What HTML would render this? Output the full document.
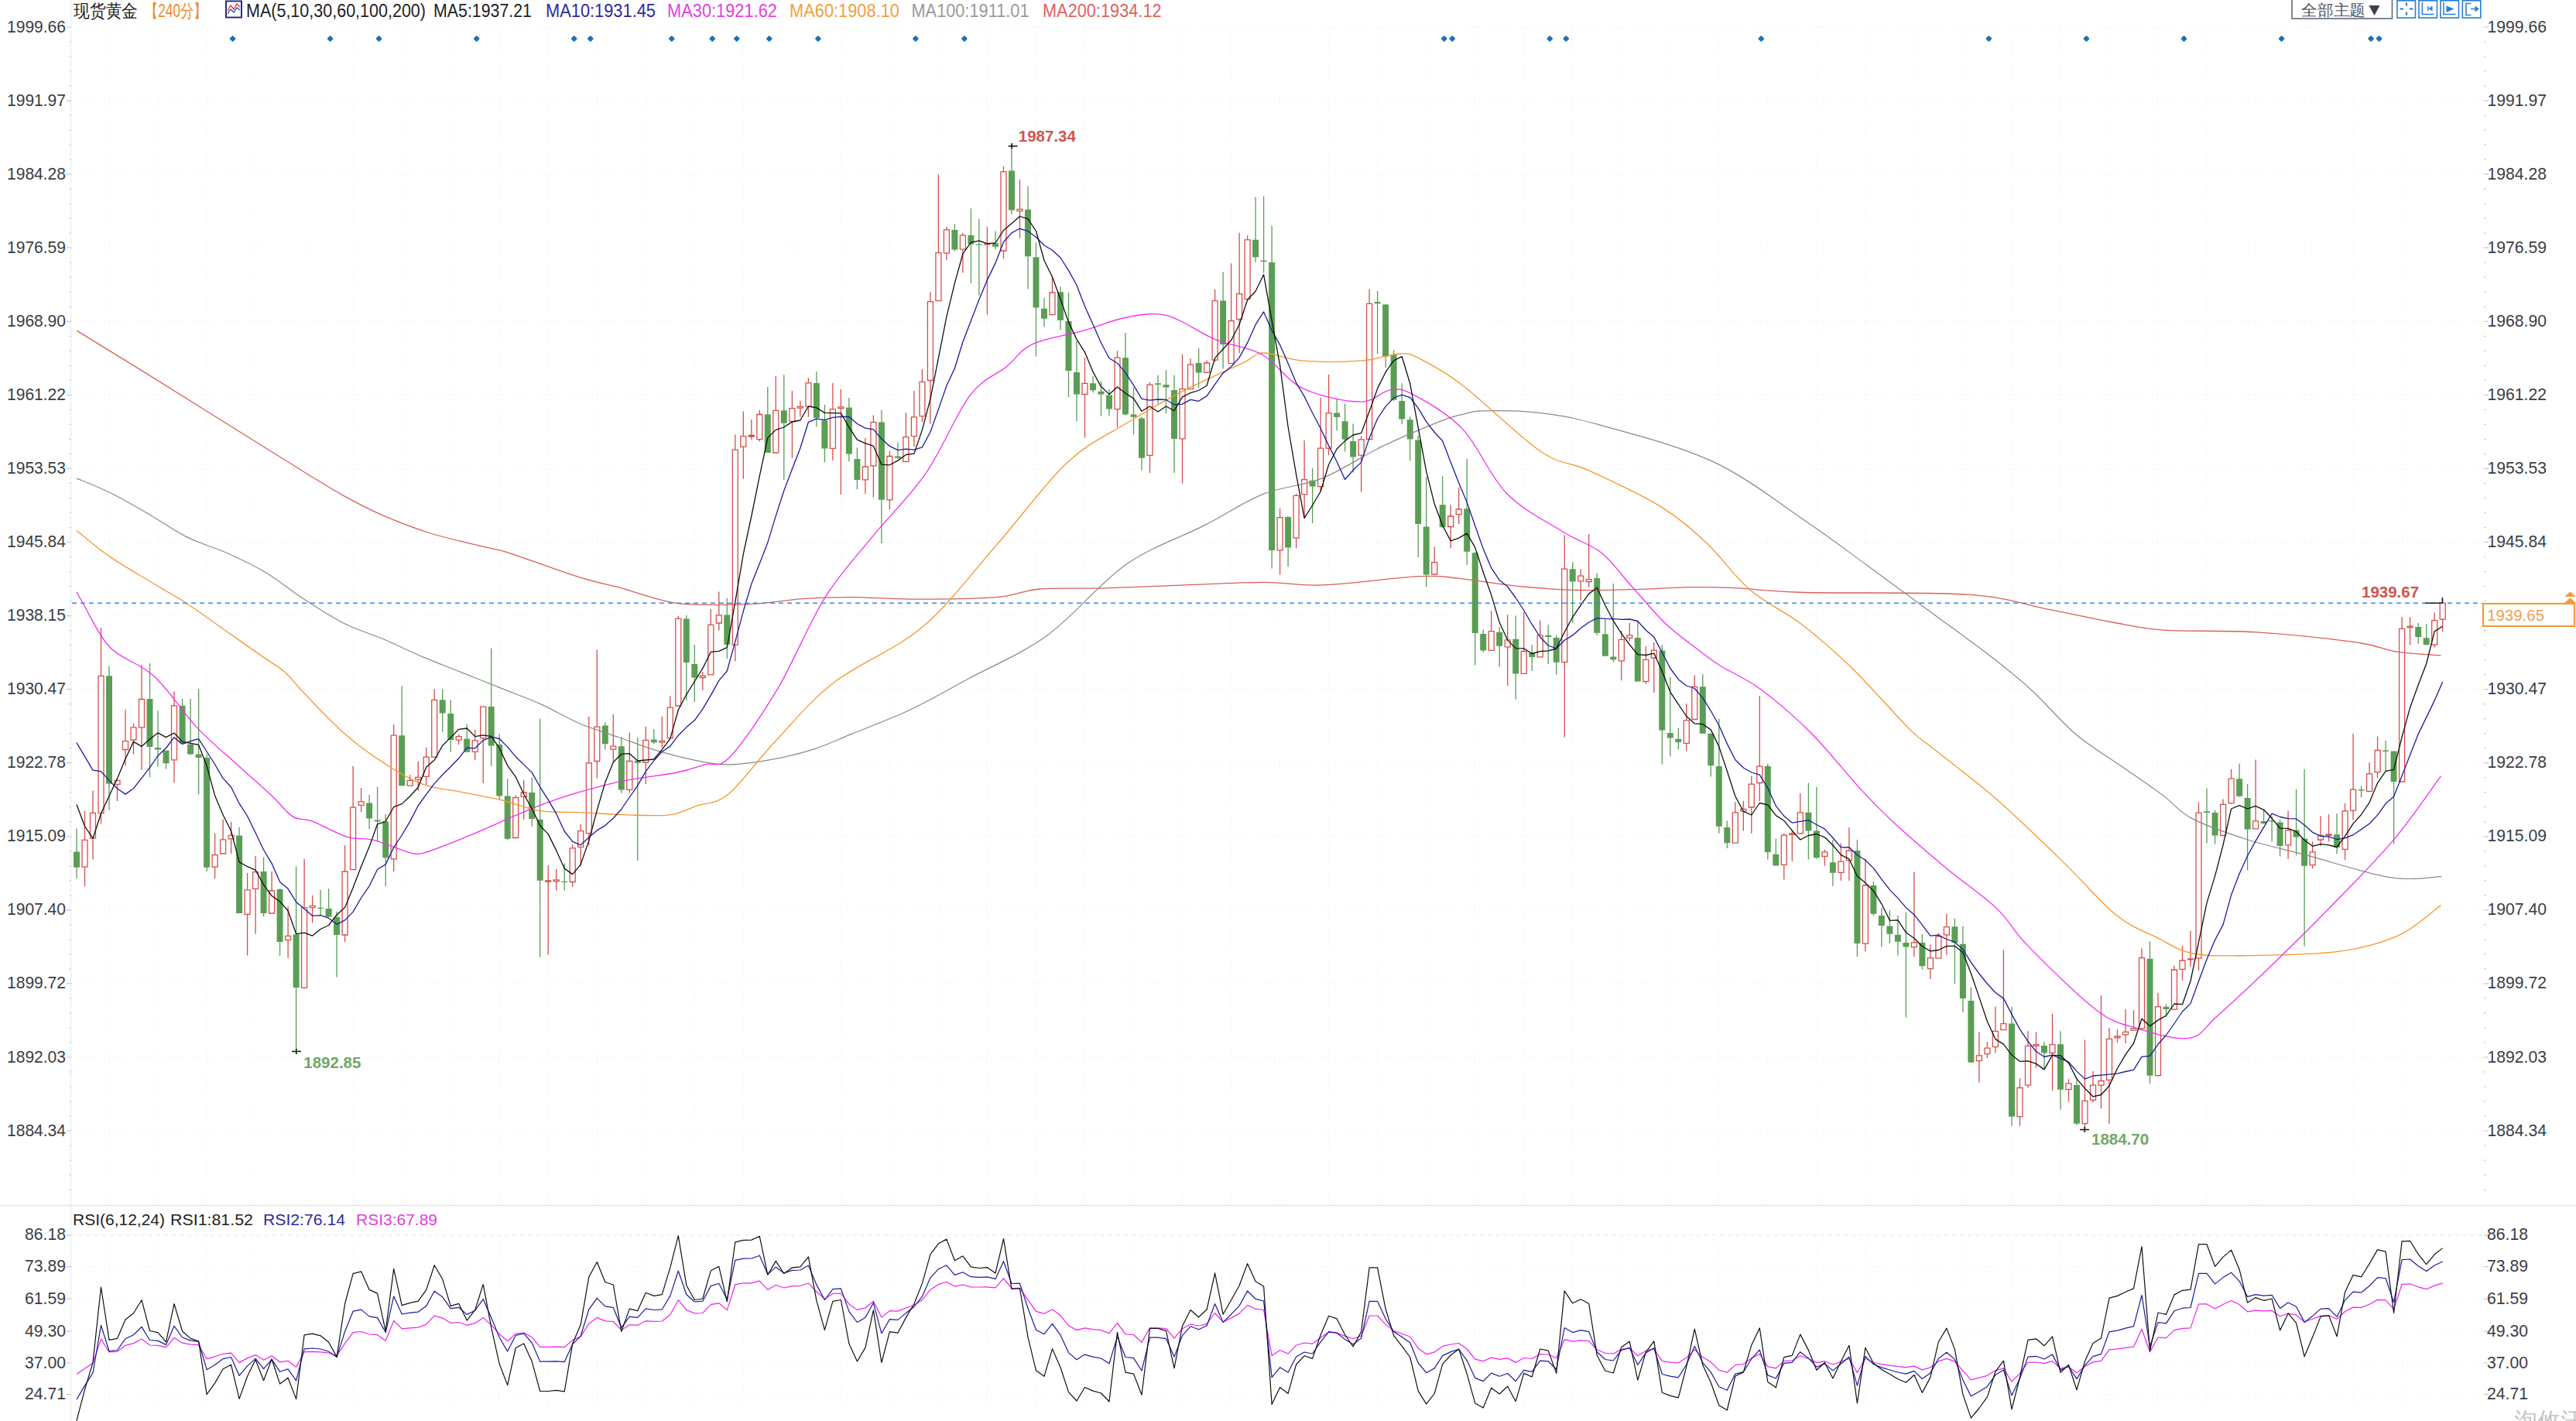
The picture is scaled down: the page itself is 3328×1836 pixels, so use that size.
<!DOCTYPE html><html><head><meta charset="utf-8"><style>html,body{margin:0;padding:0;background:#fff;overflow:hidden}</style></head><body><svg width="3328" height="1836" viewBox="0 0 3328 1836" style="display:block">
<rect width="3328" height="1836" fill="#fff"/>
<path d="M92 35H3209 M92 130.1H3209 M92 225.1H3209 M92 320.2H3209 M92 415.3H3209 M92 510.3H3209 M92 605.4H3209 M92 700.5H3209 M92 795.6H3209 M92 890.6H3209 M92 985.7H3209 M92 1080.8H3209 M92 1175.8H3209 M92 1270.9H3209 M92 1366H3209 M92 1461H3209" stroke="#ebebeb" stroke-width="1" stroke-dasharray="1.5 4.5" fill="none"/>
<path d="M141 35V1557 M204 35V1557 M267.1 35V1557 M330.1 35V1557 M393.1 35V1557 M456.1 35V1557 M519.2 35V1557 M582.2 35V1557 M645.2 35V1557 M708.2 35V1557 M771.3 35V1557 M834.3 35V1557 M897.3 35V1557 M960.3 35V1557 M1023.4 35V1557 M1086.4 35V1557 M1149.4 35V1557 M1212.4 35V1557 M1275.4 35V1557 M1338.5 35V1557 M1401.5 35V1557 M1464.5 35V1557 M1527.5 35V1557 M1590.6 35V1557 M1653.6 35V1557 M1716.6 35V1557 M1779.6 35V1557 M1842.7 35V1557 M1905.7 35V1557 M1968.7 35V1557 M2031.7 35V1557 M2094.8 35V1557 M2157.8 35V1557 M2220.8 35V1557 M2283.8 35V1557 M2346.9 35V1557 M2409.9 35V1557 M2472.9 35V1557 M2535.9 35V1557 M2599 35V1557 M2662 35V1557 M2725 35V1557 M2788 35V1557 M2851 35V1557 M2914.1 35V1557 M2977.1 35V1557 M3040.1 35V1557 M3103.1 35V1557" stroke="#eeeeee" stroke-width="1" stroke-dasharray="1.5 4.5" fill="none"/>
<path d="M92 1636.7H3209 M92 1678.1H3209 M92 1720.2H3209 M92 1761H3209 M92 1801.7H3209" stroke="#ebebeb" stroke-width="1" stroke-dasharray="1.5 4.5" fill="none"/>
<path d="M92 1595.9H3209" stroke="#e4e4e4" stroke-width="1" stroke-dasharray="5 5" fill="none"/>
<path d="M141 1596V1836 M204 1596V1836 M267.1 1596V1836 M330.1 1596V1836 M393.1 1596V1836 M456.1 1596V1836 M519.2 1596V1836 M582.2 1596V1836 M645.2 1596V1836 M708.2 1596V1836 M771.3 1596V1836 M834.3 1596V1836 M897.3 1596V1836 M960.3 1596V1836 M1023.4 1596V1836 M1086.4 1596V1836 M1149.4 1596V1836 M1212.4 1596V1836 M1275.4 1596V1836 M1338.5 1596V1836 M1401.5 1596V1836 M1464.5 1596V1836 M1527.5 1596V1836 M1590.6 1596V1836 M1653.6 1596V1836 M1716.6 1596V1836 M1779.6 1596V1836 M1842.7 1596V1836 M1905.7 1596V1836 M1968.7 1596V1836 M2031.7 1596V1836 M2094.8 1596V1836 M2157.8 1596V1836 M2220.8 1596V1836 M2283.8 1596V1836 M2346.9 1596V1836 M2409.9 1596V1836 M2472.9 1596V1836 M2535.9 1596V1836 M2599 1596V1836 M2662 1596V1836 M2725 1596V1836 M2788 1596V1836 M2851 1596V1836 M2914.1 1596V1836 M2977.1 1596V1836 M3040.1 1596V1836 M3103.1 1596V1836" stroke="#eeeeee" stroke-width="1" stroke-dasharray="1.5 4.5" fill="none"/>
<path d="M91.5 0V1836" stroke="#eef0f4" stroke-width="1.5" fill="none"/>
<path d="M0 1557.5H3328" stroke="#e4e4e4" stroke-width="1.5" fill="none"/>
<path d="M86 35H92M3209 35H3215 M89.5 54H92M3209 54H3211.5 M89.5 73H92M3209 73H3211.5 M89.5 92H92M3209 92H3211.5 M89.5 111.1H92M3209 111.1H3211.5 M86 130.1H92M3209 130.1H3215 M89.5 149.1H92M3209 149.1H3211.5 M89.5 168.1H92M3209 168.1H3211.5 M89.5 187.1H92M3209 187.1H3211.5 M89.5 206.1H92M3209 206.1H3211.5 M86 225.1H92M3209 225.1H3215 M89.5 244.2H92M3209 244.2H3211.5 M89.5 263.2H92M3209 263.2H3211.5 M89.5 282.2H92M3209 282.2H3211.5 M89.5 301.2H92M3209 301.2H3211.5 M86 320.2H92M3209 320.2H3215 M89.5 339.2H92M3209 339.2H3211.5 M89.5 358.2H92M3209 358.2H3211.5 M89.5 377.3H92M3209 377.3H3211.5 M89.5 396.3H92M3209 396.3H3211.5 M86 415.3H92M3209 415.3H3215 M89.5 434.3H92M3209 434.3H3211.5 M89.5 453.3H92M3209 453.3H3211.5 M89.5 472.3H92M3209 472.3H3211.5 M89.5 491.3H92M3209 491.3H3211.5 M86 510.3H92M3209 510.3H3215 M89.5 529.4H92M3209 529.4H3211.5 M89.5 548.4H92M3209 548.4H3211.5 M89.5 567.4H92M3209 567.4H3211.5 M89.5 586.4H92M3209 586.4H3211.5 M86 605.4H92M3209 605.4H3215 M89.5 624.4H92M3209 624.4H3211.5 M89.5 643.4H92M3209 643.4H3211.5 M89.5 662.5H92M3209 662.5H3211.5 M89.5 681.5H92M3209 681.5H3211.5 M86 700.5H92M3209 700.5H3215 M89.5 719.5H92M3209 719.5H3211.5 M89.5 738.5H92M3209 738.5H3211.5 M89.5 757.5H92M3209 757.5H3211.5 M89.5 776.5H92M3209 776.5H3211.5 M86 795.6H92M3209 795.6H3215 M89.5 814.6H92M3209 814.6H3211.5 M89.5 833.6H92M3209 833.6H3211.5 M89.5 852.6H92M3209 852.6H3211.5 M89.5 871.6H92M3209 871.6H3211.5 M86 890.6H92M3209 890.6H3215 M89.5 909.6H92M3209 909.6H3211.5 M89.5 928.7H92M3209 928.7H3211.5 M89.5 947.7H92M3209 947.7H3211.5 M89.5 966.7H92M3209 966.7H3211.5 M86 985.7H92M3209 985.7H3215 M89.5 1004.7H92M3209 1004.7H3211.5 M89.5 1023.7H92M3209 1023.7H3211.5 M89.5 1042.7H92M3209 1042.7H3211.5 M89.5 1061.8H92M3209 1061.8H3211.5 M86 1080.8H92M3209 1080.8H3215 M89.5 1099.8H92M3209 1099.8H3211.5 M89.5 1118.8H92M3209 1118.8H3211.5 M89.5 1137.8H92M3209 1137.8H3211.5 M89.5 1156.8H92M3209 1156.8H3211.5 M86 1175.8H92M3209 1175.8H3215 M89.5 1194.9H92M3209 1194.9H3211.5 M89.5 1213.9H92M3209 1213.9H3211.5 M89.5 1232.9H92M3209 1232.9H3211.5 M89.5 1251.9H92M3209 1251.9H3211.5 M86 1270.9H92M3209 1270.9H3215 M89.5 1289.9H92M3209 1289.9H3211.5 M89.5 1308.9H92M3209 1308.9H3211.5 M89.5 1328H92M3209 1328H3211.5 M89.5 1347H92M3209 1347H3211.5 M86 1366H92M3209 1366H3215 M89.5 1385H92M3209 1385H3211.5 M89.5 1404H92M3209 1404H3211.5 M89.5 1423H92M3209 1423H3211.5 M89.5 1442H92M3209 1442H3211.5 M86 1461H92M3209 1461H3215 M89.5 1480.1H92M3209 1480.1H3211.5 M89.5 1499.1H92M3209 1499.1H3211.5 M89.5 1518.1H92M3209 1518.1H3211.5 M89.5 1537.1H92M3209 1537.1H3211.5 M86 1595.9H92M3209 1595.9H3215 M86 1636.7H92M3209 1636.7H3215 M86 1678.1H92M3209 1678.1H3215 M86 1720.2H92M3209 1720.2H3215 M86 1761H92M3209 1761H3215 M86 1801.7H92M3209 1801.7H3215" stroke="#c8c8c8" stroke-width="1.2" fill="none"/>
<g font-family="Liberation Sans, sans-serif" font-size="22.5" fill="#3a3d44"><text x="9" y="41.5" textLength="76" lengthAdjust="spacingAndGlyphs">1999.66</text><text x="3213.5" y="41.5" textLength="76.5" lengthAdjust="spacingAndGlyphs">1999.66</text><text x="9" y="136.6" textLength="76" lengthAdjust="spacingAndGlyphs">1991.97</text><text x="3213.5" y="136.6" textLength="76.5" lengthAdjust="spacingAndGlyphs">1991.97</text><text x="9" y="231.6" textLength="76" lengthAdjust="spacingAndGlyphs">1984.28</text><text x="3213.5" y="231.6" textLength="76.5" lengthAdjust="spacingAndGlyphs">1984.28</text><text x="9" y="326.7" textLength="76" lengthAdjust="spacingAndGlyphs">1976.59</text><text x="3213.5" y="326.7" textLength="76.5" lengthAdjust="spacingAndGlyphs">1976.59</text><text x="9" y="421.8" textLength="76" lengthAdjust="spacingAndGlyphs">1968.90</text><text x="3213.5" y="421.8" textLength="76.5" lengthAdjust="spacingAndGlyphs">1968.90</text><text x="9" y="516.8" textLength="76" lengthAdjust="spacingAndGlyphs">1961.22</text><text x="3213.5" y="516.8" textLength="76.5" lengthAdjust="spacingAndGlyphs">1961.22</text><text x="9" y="611.9" textLength="76" lengthAdjust="spacingAndGlyphs">1953.53</text><text x="3213.5" y="611.9" textLength="76.5" lengthAdjust="spacingAndGlyphs">1953.53</text><text x="9" y="707" textLength="76" lengthAdjust="spacingAndGlyphs">1945.84</text><text x="3213.5" y="707" textLength="76.5" lengthAdjust="spacingAndGlyphs">1945.84</text><text x="9" y="802.1" textLength="76" lengthAdjust="spacingAndGlyphs">1938.15</text><text x="3213.5" y="802.1" textLength="76.5" lengthAdjust="spacingAndGlyphs">1938.15</text><text x="9" y="897.1" textLength="76" lengthAdjust="spacingAndGlyphs">1930.47</text><text x="3213.5" y="897.1" textLength="76.5" lengthAdjust="spacingAndGlyphs">1930.47</text><text x="9" y="992.2" textLength="76" lengthAdjust="spacingAndGlyphs">1922.78</text><text x="3213.5" y="992.2" textLength="76.5" lengthAdjust="spacingAndGlyphs">1922.78</text><text x="9" y="1087.3" textLength="76" lengthAdjust="spacingAndGlyphs">1915.09</text><text x="3213.5" y="1087.3" textLength="76.5" lengthAdjust="spacingAndGlyphs">1915.09</text><text x="9" y="1182.3" textLength="76" lengthAdjust="spacingAndGlyphs">1907.40</text><text x="3213.5" y="1182.3" textLength="76.5" lengthAdjust="spacingAndGlyphs">1907.40</text><text x="9" y="1277.4" textLength="76" lengthAdjust="spacingAndGlyphs">1899.72</text><text x="3213.5" y="1277.4" textLength="76.5" lengthAdjust="spacingAndGlyphs">1899.72</text><text x="9" y="1372.5" textLength="76" lengthAdjust="spacingAndGlyphs">1892.03</text><text x="3213.5" y="1372.5" textLength="76.5" lengthAdjust="spacingAndGlyphs">1892.03</text><text x="9" y="1467.5" textLength="76" lengthAdjust="spacingAndGlyphs">1884.34</text><text x="3213.5" y="1467.5" textLength="76.5" lengthAdjust="spacingAndGlyphs">1884.34</text><text x="32" y="1602.4" textLength="53" lengthAdjust="spacingAndGlyphs">86.18</text><text x="3213" y="1602.4" textLength="53" lengthAdjust="spacingAndGlyphs">86.18</text><text x="32" y="1643.2" textLength="53" lengthAdjust="spacingAndGlyphs">73.89</text><text x="3213" y="1643.2" textLength="53" lengthAdjust="spacingAndGlyphs">73.89</text><text x="32" y="1684.6" textLength="53" lengthAdjust="spacingAndGlyphs">61.59</text><text x="3213" y="1684.6" textLength="53" lengthAdjust="spacingAndGlyphs">61.59</text><text x="32" y="1726.7" textLength="53" lengthAdjust="spacingAndGlyphs">49.30</text><text x="3213" y="1726.7" textLength="53" lengthAdjust="spacingAndGlyphs">49.30</text><text x="32" y="1767.5" textLength="53" lengthAdjust="spacingAndGlyphs">37.00</text><text x="3213" y="1767.5" textLength="53" lengthAdjust="spacingAndGlyphs">37.00</text><text x="32" y="1808.2" textLength="53" lengthAdjust="spacingAndGlyphs">24.71</text><text x="3213" y="1808.2" textLength="53" lengthAdjust="spacingAndGlyphs">24.71</text></g>
<path d="M99 1070.5V1135 M141 860.6V1046.8 M193.5 857V1004 M204 918.2V990.7 M214.5 969.9V993.6 M235.6 902.7V961 M246.1 902.7V975.4 M256.6 890.3V1026.2 M267.1 974.5V1126 M309.1 1069V1180 M340.6 1107.5V1184.4 M361.6 1148V1234.8 M382.6 1119.5V1358 M414.1 1149.6V1182 M424.6 1148V1185 M435.1 1177.7V1262.5 M477.1 1027V1071.3 M487.6 1016.7V1087.6 M498.2 1052V1145.3 M519.2 886.6V1015.2 M571.7 890.2V945.7 M582.2 904.3V971.7 M603.2 935.4V972.3 M634.7 837.7V990 M645.2 948.6V1032.2 M655.7 1006.2V1085.4 M687.2 1004.7V1067.7 M697.7 928.8V1236.8 M729.2 1115.6V1150.5 M781.8 933.2V968.7 M802.8 952.4V1024.8 M823.8 952.4V1112 M844.8 942.1V961.3 M886.8 794.9V905.2 M897.3 833.2V907 M939.3 772.8V851.2 M991.8 500.1V585 M1012.8 484.3V619.9 M1054.9 480.3V551.2 M1065.4 523V597.4 M1096.9 514V596.3 M1107.4 578.2V632.3 M1138.9 529.8V702.1 M1159.9 571.5V592.9 M1233.4 289.5V324.4 M1254.4 269.2V366.1 M1264.9 282.7V381.8 M1286 298.5V322.2 M1307 187V277.1 M1328 240.6V373.5 M1338.5 313.2V460.7 M1349 384.8V422.4 M1370 370.6V426.2 M1380.5 377.7V512.9 M1391 440.8V544.4 M1412 485.9V507.3 M1422.5 492.6V537.7 M1433 502.7V537.7 M1454 430V536.5 M1464.5 500.5V561.3 M1475 538.8V607.5 M1496 484.7V521.9 M1506.5 478V534.3 M1517 484.7V610.9 M1548.6 449.8V501.6 M1580.1 351.5V476.5 M1622.1 254.6V339.1 M1632.6 253.5V352.6 M1643.1 291.8V734.5 M1664.1 666.9V732.3 M1695.6 605V676 M1727.1 516V556.6 M1737.6 521.7V583.6 M1748.1 547.6V610.6 M1779.6 376V457.1 M1790.1 392.9V475.1 M1800.6 452.6V518 M1811.2 495.4V548.3 M1821.7 538.2V595.6 M1832.2 563V719.9 M1842.7 616.3V758.2 M1863.7 615.2V681.6 M1895.2 592.7V730 M1905.7 713.2V859.5 M1916.2 813.4V842.7 M1937.2 810V861.8 M1958.2 795.4V903.7 M1979.2 833.2V866.9 M2000.2 807.3V857.9 M2010.7 820.8V871.4 M2031.7 726.2V805 M2063.2 740.4V820.8 M2073.8 799.4V846.7 M2084.3 753.9V855.7 M2115.8 802.7V880.5 M2147.3 833.2V987.4 M2157.8 874.8V977.3 M2168.3 940.7V968.2 M2199.8 871.1V947.8 M2210.3 947.8V1003.6 M2220.8 928.8V1076.8 M2231.3 1060.4V1096 M2283.8 986.7V1110.6 M2294.3 1083.6V1118.5 M2336.4 1011.5V1110.6 M2346.9 1016.7V1109.5 M2367.9 1085V1144.7 M2399.4 1085V1236 M2420.4 1139.1V1183 M2430.9 1172.9V1223.6 M2441.4 1176.3V1219.1 M2451.9 1183V1234.8 M2462.4 1178.5V1314.8 M2483.4 1206.7V1252.8 M2525.4 1186.4V1270.9 M2535.9 1196.5V1308 M2546.4 1276V1372.8 M2599 1300.8V1455 M2641 1345.8V1381.8 M2662 1332.3V1433.6 M2683 1394.2V1453.9 M2777.5 1216.3V1400 M2798.5 1297.3V1314.2 M2851 1018.6V1089.5 M2861.6 1046.7V1090.6 M2893.1 986.6V1029.8 M2903.6 1012.9V1124.4 M2924.6 1046.7V1064.7 M2935.1 1054.6V1087.3 M2945.6 1059.1V1106.4 M2966.6 1019.7V1105.3 M2977.1 993.8V1222.4 M3019.1 1051.2V1103 M3050.6 1015.6V1030.3 M3082.1 957.1V996.5 M3092.6 970.6V1090.9 M3124.2 805V832.1 M3134.7 806.2V833.2" stroke="#5a9e55" stroke-width="1.3" fill="none"/>
<path d="M95 1100.6h8v20.1h-8Z M137 873.3h8v139.5h-8Z M189.5 902.9h8v62.1h-8Z M200 966.1h8v2.4h-8Z M210.5 969.4h8v16.8h-8Z M231.6 911.8h8v48.8h-8Z M242.1 961.8h8v12.7h-8Z M252.6 974.5h8v4.5h-8Z M263.1 979h8v141.8h-8Z M305.1 1079.4h8v100.6h-8Z M336.6 1126h8v54h-8Z M357.6 1149h8v68h-8Z M378.6 1207.3h8v68.8h-8Z M410.1 1172.7h8v1.4h-8Z M420.6 1173.9h8v10.6h-8Z M431.1 1185h8v23h-8Z M473.1 1037.4h8v20.1h-8Z M483.6 1059.5h8v2.1h-8Z M494.2 1061.6h8v46.7h-8Z M515.2 950.2h8v65h-8Z M567.7 904.3h8v17.2h-8Z M578.2 922h8v34.1h-8Z M599.2 954.6h8v17.1h-8Z M630.7 913.1h8v50.3h-8Z M641.2 961.9h8v66.5h-8Z M651.7 1028.4h8v55.3h-8Z M683.2 1024h8v34h-8Z M693.7 1058.8h8v79h-8Z M725.2 1138.7h8v1.4h-8Z M777.8 937.6h8v23.7h-8Z M798.8 964.2h8v56.2h-8Z M819.8 982.9h8v2.9h-8Z M840.8 955.4h8v3.8h-8Z M882.8 799.4h8v56.7h-8Z M893.3 857.9h8v17.6h-8Z M935.3 794.4h8v38.3h-8Z M987.8 535.5h8v49.5h-8Z M1008.8 530.3h8v16.4h-8Z M1050.9 494.9h8v45.1h-8Z M1061.4 543.3h8v36.1h-8Z M1092.9 526.4h8v60.2h-8Z M1103.4 592.9h8v27h-8Z M1134.9 545.6h8v100.2h-8Z M1155.9 589.5h8v2.3h-8Z M1229.4 296.9h8v25.7h-8Z M1250.4 304.1h8v11.3h-8Z M1260.9 315.4h8v1.4h-8Z M1282 314.3h8v4.5h-8Z M1303 220.4h8v51.1h-8Z M1324 270.8h8v60.4h-8Z M1334.5 332.3h8v65.3h-8Z M1345 398.7h8v13.1h-8Z M1366 377.3h8v36.5h-8Z M1376.5 414.9h8v64.2h-8Z M1387 480.9h8v28.6h-8Z M1408 495.3h8v9h-8Z M1418.5 505.7h8v3.8h-8Z M1429 510.6h8v18h-8Z M1450 462.2h8v73.2h-8Z M1460.5 535.4h8v3.4h-8Z M1471 540.4h8v51.3h-8Z M1492 495.3h8v1.8h-8Z M1502.5 497.1h8v3.4h-8Z M1513 503.9h8v63h-8Z M1544.6 469h8v12.4h-8Z M1576.1 388.6h8v56.4h-8Z M1618.1 309.8h8v22.5h-8Z M1628.6 336.4h8v1.6h-8Z M1639.1 339.1h8v371.8h-8Z M1660.1 668.1h8v39.4h-8Z M1691.6 620.8h8v7.8h-8Z M1723.1 533.6h8v5.4h-8Z M1733.6 544.2h8v23.6h-8Z M1744.1 570.1h8v20.3h-8Z M1775.6 390h8v2.3h-8Z M1786.1 393.6h8v66.9h-8Z M1796.6 458.2h8v58.6h-8Z M1807.2 517.9h8v23.7h-8Z M1817.7 542.3h8v25.2h-8Z M1828.2 568.6h8v108.5h-8Z M1838.7 680.5h8v61.9h-8Z M1859.7 652.3h8v28.9h-8Z M1891.2 657.3h8v55.4h-8Z M1901.7 714.3h8v103.6h-8Z M1912.2 819h8v21.4h-8Z M1933.2 816.8h8v18h-8Z M1954.2 825.8h8v44.6h-8Z M1975.2 843.3h8v5.6h-8Z M1996.2 820.8h8v2.2h-8Z M2006.7 824.1h8v31.6h-8Z M2027.7 735.2h8v16.4h-8Z M2059.2 747.1h8v70.7h-8Z M2069.8 819.2h8v28.6h-8Z M2080.3 848.5h8v3.8h-8Z M2111.8 824.1h8v56.4h-8Z M2143.3 840.4h8v103.1h-8Z M2153.8 946.9h8v6.7h-8Z M2164.3 954.8h8v4.2h-8Z M2195.8 887.3h8v60.5h-8Z M2206.3 947.8h8v41.5h-8Z M2216.8 990.1h8v77.7h-8Z M2227.3 1068.9h8v20.3h-8Z M2279.8 990.1h8v110.8h-8Z M2290.3 1103.8h8v14.7h-8Z M2332.4 1049.8h8v23.6h-8Z M2342.9 1073.4h8v34.9h-8Z M2363.9 1114.3h8v13.5h-8Z M2395.4 1099h8v120.1h-8Z M2416.4 1144h8v36.8h-8Z M2426.9 1183h8v12.9h-8Z M2437.4 1196.5h8v10.2h-8Z M2447.9 1207.8h8v9h-8Z M2458.4 1217.9h8v5.7h-8Z M2479.4 1217.9h8v30.4h-8Z M2521.4 1197.2h8v20.7h-8Z M2531.9 1219.7h8v70.3h-8Z M2542.4 1292.9h8v79.9h-8Z M2595 1322.6h8v120.1h-8Z M2637 1351h8v9.5h-8Z M2658 1349.2h8v58.5h-8Z M2679 1402.1h8v49.6h-8Z M2773.5 1238.8h8v150.9h-8Z M2794.5 1300.7h8v3.4h-8Z M2847 1048.3h8v1.8h-8Z M2857.6 1050.1h8v29.3h-8Z M2889.1 1006.2h8v22.5h-8Z M2899.6 1030.9h8v40.6h-8Z M2920.6 1060.9h8v3.2h-8Z M2931.1 1060.2h8v1.4h-8Z M2941.6 1062.5h8v30.4h-8Z M2962.6 1072.6h8v9h-8Z M2973.1 1083.4h8v35.4h-8Z M3015.1 1078.2h8v16.9h-8Z M3046.6 1020.1h8v1.4h-8Z M3078.1 969.5h8v1.4h-8Z M3088.6 970.6h8v39.4h-8Z M3120.2 810h8v13.1h-8Z M3130.7 824.2h8v9h-8Z" fill="#5a9e55" stroke="none"/>
<path d="M109.5 1047.7V1085.3 M109.5 1120.1V1145.2 M106 1085.3h7v34.8h-7Z M120 1021.7V1050.4 M120 1083.2V1110.4 M116.5 1050.4h7v32.8h-7Z M130.5 811.2V873.3 M130.5 1050.7V1064.6 M127 873.3h7v177.4h-7Z M151.5 1006V1008.4 M151.5 1013.4V1035 M148 1008.4h7v5h-7Z M162 916.8V957.6 M162 968.5V989.2 M158.5 957.6h7v10.9h-7Z M172.5 934.5V939.8 M172.5 956V974.4 M169 939.8h7v16.2h-7Z M183 859.1V903.5 M183 939.8V995.1 M179.5 903.5h7v36.3h-7Z M225 893.2V911.8 M225 981.9V1010.9 M221.5 911.8h7v70.1h-7Z M277.6 1076.5V1104.6 M277.6 1120.2V1135 M274.1 1104.6h7v15.6h-7Z M288.1 1058.7V1084.8 M284.6 1084.8h7v18.2h-7Z M298.6 1061.7V1079.4 M298.6 1083.9V1103 M295.1 1079.4h7v4.5h-7Z M319.6 1128V1149.8 M319.6 1181.4V1234.6 M316.1 1149.8h7v31.6h-7Z M330.1 1106V1126.7 M330.1 1148.3V1206.5 M326.6 1126.7h7v21.6h-7Z M351.1 1126V1151 M351.1 1180V1180.7 M347.6 1151h7v29h-7Z M372.1 1171V1209.3 M372.1 1214.7V1237.7 M368.6 1209.3h7v5.4h-7Z M393.1 1109.7V1172.7 M393.1 1276.1V1277.3 M389.6 1172.7h7v103.4h-7Z M403.6 1157V1170.3 M403.6 1172.7V1192.5 M400.1 1170.3h7v2.4h-7Z M445.6 1092V1126 M445.6 1208V1217 M442.1 1126h7v82h-7Z M456.1 990V1043.2 M452.6 1043.2h7v80.4h-7Z M466.6 1018V1035.8 M466.6 1040.3V1049 M463.1 1035.8h7v4.5h-7Z M508.7 936.3V950.2 M508.7 1109.8V1126 M505.2 950.2h7v159.6h-7Z M529.7 1001.3V1008.4 M526.2 1008.4h7v6.8h-7Z M540.2 983.6V1004.3 M540.2 1007.2V1022 M536.7 1004.3h7v2.9h-7Z M550.7 965.8V978.2 M550.7 1003.4V1013.7 M547.2 978.2h7v25.2h-7Z M561.2 890.2V904.3 M557.7 904.3h7v73.9h-7Z M592.7 948.7V951.6 M592.7 956.1V962 M589.2 951.6h7v4.5h-7Z M613.7 942.7V956.9 M613.7 971.3V982 M610.2 956.9h7v14.4h-7Z M624.2 912.2V913.1 M624.2 953.6V1012 M620.7 913.1h7v40.5h-7Z M666.2 1027.5V1030.5 M662.7 1030.5h7v52h-7Z M676.7 1007.7V1024 M676.7 1029.3V1058.8 M673.2 1024h7v5.3h-7Z M708.2 1118V1137.8 M708.2 1139.2V1233.8 M704.7 1137.8h7v1.4h-7Z M718.7 1123V1136.9 M718.7 1138.7V1150.5 M715.2 1136.9h7v1.8h-7Z M739.7 1091.3V1095.8 M739.7 1139.5V1146 M736.2 1095.8h7v43.7h-7Z M750.2 1064.7V1073.6 M750.2 1094.3V1119.4 M746.7 1073.6h7v20.7h-7Z M760.8 925.8V985.8 M760.8 1076.6V1092.2 M757.3 985.8h7v90.8h-7Z M771.3 839.4V939.1 M771.3 983.5V1005.6 M767.8 939.1h7v44.4h-7Z M792.3 922.9V964.2 M792.3 968.1V983.5 M788.8 964.2h7v3.9h-7Z M813.3 946.5V983.5 M813.3 1020.4V1024.8 M809.8 983.5h7v36.9h-7Z M834.3 939.1V956.3 M834.3 985V1013 M830.8 956.3h7v28.7h-7Z M855.3 925.8V957.4 M855.3 959.2V965.7 M851.8 957.4h7v1.8h-7Z M865.8 899.6V914.2 M862.3 914.2h7v39.4h-7Z M876.3 796V799.4 M872.8 799.4h7v112.6h-7Z M907.8 868V873.2 M907.8 875.5V891.7 M904.3 873.2h7v2.3h-7Z M918.3 787V807.3 M918.3 871.9V872.6 M914.8 807.3h7v64.6h-7Z M928.8 764.5V794.9 M928.8 805V814.7 M925.3 794.9h7v10.1h-7Z M949.8 561.4V581.2 M949.8 833.2V854.5 M946.3 581.2h7v252h-7Z M960.3 531.6V563.6 M960.3 577.1V618.8 M956.8 563.6h7v13.5h-7Z M970.8 542.2V562.5 M970.8 564V568.1 M967.3 562.5h7v1.5h-7Z M981.3 529.8V535.5 M981.3 567.7V570.4 M977.8 535.5h7v32.2h-7Z M1002.3 485.9V530.3 M998.8 530.3h7v54.7h-7Z M1023.4 505V527.6 M1023.4 544.5V591.8 M1019.9 527.6h7v16.9h-7Z M1033.9 517.4V525.3 M1033.9 527.1V538.8 M1030.4 525.3h7v1.8h-7Z M1044.4 488.2V494.9 M1044.4 525.3V538.8 M1040.9 494.9h7v30.4h-7Z M1075.9 494.9V528.7 M1075.9 579.4V595.1 M1072.4 528.7h7v50.7h-7Z M1086.4 502.8V525.8 M1086.4 527.6V639 M1082.9 525.8h7v1.8h-7Z M1117.9 565.9V603 M1117.9 619.9V637.9 M1114.4 603h7v16.9h-7Z M1128.4 536.6V545.6 M1128.4 601.9V642.4 M1124.9 545.6h7v56.3h-7Z M1149.4 582.7V589.5 M1149.4 645.8V658.2 M1145.9 589.5h7v56.3h-7Z M1170.4 533.2V564.7 M1170.4 596.3V597.4 M1166.9 564.7h7v31.6h-7Z M1180.9 505V538.8 M1180.9 563.6V577.1 M1177.4 538.8h7v24.8h-7Z M1191.4 476.9V493.3 M1191.4 537.7V545.6 M1187.9 493.3h7v44.4h-7Z M1201.9 377.3V389.7 M1201.9 491.5V547.8 M1198.4 389.7h7v101.8h-7Z M1212.4 225.3V326.7 M1208.9 326.7h7v61.9h-7Z M1222.9 292.9V296.9 M1222.9 327.1V335.7 M1219.4 296.9h7v30.2h-7Z M1243.9 300.8V304.1 M1243.9 322.2V352.6 M1240.4 304.1h7v18.1h-7Z M1275.4 293.3V315 M1275.4 315.9V406.6 M1271.9 315h7v0.9h-7Z M1296.5 214.7V221.9 M1296.5 324V334.5 M1293 221.9h7v102.1h-7Z M1317.5 232.1V270.4 M1317.5 272.6V307.5 M1314 270.4h7v2.2h-7Z M1359.5 358.2V378 M1356 378h7v28.6h-7Z M1401.5 462.2V495.3 M1401.5 509.5V565.8 M1398 495.3h7v14.2h-7Z M1443.5 453.2V462.2 M1443.5 528.6V552.3 M1440 462.2h7v66.4h-7Z M1485.5 493.7V497.1 M1485.5 588.3V610.9 M1482 497.1h7v91.2h-7Z M1527.5 457.7V502.7 M1527.5 566.9V624.4 M1524 502.7h7v64.2h-7Z M1538 463.3V471.2 M1534.5 471.2h7v31.5h-7Z M1559.1 465.6V469 M1555.6 469h7v12.4h-7Z M1569.6 374V388.6 M1569.6 465.2V467.5 M1566.1 388.6h7v76.6h-7Z M1590.6 340.2V414.5 M1587.1 414.5h7v55.2h-7Z M1601.1 300.8V379.6 M1601.1 412.3V456.2 M1597.6 379.6h7v32.7h-7Z M1611.6 304.2V309.8 M1608.1 309.8h7v76.6h-7Z M1653.6 656.8V668.7 M1653.6 710.9V742.4 M1650.1 668.7h7v42.2h-7Z M1674.6 637.7V640.4 M1674.6 695.1V708.6 M1671.1 640.4h7v54.7h-7Z M1685.1 569V619.6 M1685.1 638.8V669.2 M1681.6 619.6h7v19.2h-7Z M1706.1 513.8V579.1 M1706.1 628.6V635.4 M1702.6 579.1h7v49.5h-7Z M1716.6 484V533.6 M1716.6 579.1V588.1 M1713.1 533.6h7v45.5h-7Z M1758.6 563.3V567.8 M1758.6 588.1V635.4 M1755.1 567.8h7v20.3h-7Z M1769.1 373.8V392.3 M1765.6 392.3h7v175.2h-7Z M1853.2 706.4V726.7 M1853.2 742V742.4 M1849.7 726.7h7v15.3h-7Z M1874.2 652.3V667 M1874.2 680.5V708.6 M1870.7 667h7v13.5h-7Z M1884.7 629.8V658 M1884.7 664.7V677.1 M1881.2 658h7v6.7h-7Z M1926.7 789.3V815.6 M1923.2 815.6h7v24.8h-7Z M1947.7 794.2V826.9 M1947.7 835.9V886.2 M1944.2 826.9h7v9h-7Z M1968.7 790.9V841.5 M1965.2 841.5h7v28.9h-7Z M1989.7 801.6V820.8 M1989.7 848.9V849.4 M1986.2 820.8h7v28.1h-7Z M2021.2 691.3V735.2 M2021.2 855.7V952.5 M2017.7 735.2h7v120.5h-7Z M2042.2 735.2V744.2 M2042.2 750.9V775.7 M2038.7 744.2h7v6.7h-7Z M2052.7 690.1V748.7 M2052.7 751.6V758.8 M2049.2 748.7h7v2.9h-7Z M2094.8 815.1V826.4 M2094.8 853.9V879.3 M2091.3 826.4h7v27.5h-7Z M2105.3 805V820.8 M2105.3 824.1V828.6 M2101.8 820.8h7v3.3h-7Z M2126.3 835V852.3 M2126.3 880.5V883.8 M2122.8 852.3h7v28.2h-7Z M2136.8 829.8V840.4 M2136.8 850V895.1 M2133.3 840.4h7v9.6h-7Z M2178.8 909.1V930.9 M2178.8 960.4V970.3 M2175.3 930.9h7v29.5h-7Z M2189.3 872.5V887.3 M2185.8 887.3h7v42.2h-7Z M2241.8 1036.3V1049.8 M2238.3 1049.8h7v39.4h-7Z M2252.3 1034.7V1045.3 M2252.3 1048.2V1073.4 M2248.8 1045.3h7v2.9h-7Z M2262.8 1002.5V1013.1 M2262.8 1043V1076.8 M2259.3 1013.1h7v29.9h-7Z M2273.3 899.2V990.1 M2273.3 1011.5V1035.1 M2269.8 990.1h7v21.4h-7Z M2304.8 1076.8V1079.1 M2304.8 1117.3V1136.5 M2301.3 1079.1h7v38.2h-7Z M2315.3 1072.3V1076.8 M2315.3 1078.4V1112.8 M2311.8 1076.8h7v1.6h-7Z M2325.8 1025V1049.8 M2325.8 1076.8V1077.9 M2322.3 1049.8h7v27h-7Z M2357.4 1097.4V1100.8 M2357.4 1106.4V1118.8 M2353.9 1100.8h7v5.6h-7Z M2378.4 1089.5V1113.2 M2378.4 1127.4V1138 M2374.9 1113.2h7v14.2h-7Z M2388.9 1069.3V1099 M2388.9 1111.6V1138 M2385.4 1099h7v12.6h-7Z M2409.9 1109.8V1144 M2409.9 1219.1V1229.2 M2406.4 1144h7v75.1h-7Z M2472.9 1126.7V1217.9 M2472.9 1223.6V1236 M2469.4 1217.9h7v5.7h-7Z M2493.9 1220.2V1237.7 M2493.9 1251.7V1265.2 M2490.4 1237.7h7v14h-7Z M2504.4 1205.5V1210 M2500.9 1210h7v28.2h-7Z M2514.9 1180.8V1197.7 M2514.9 1207.8V1233.7 M2511.4 1197.7h7v10.1h-7Z M2556.9 1333.4V1363.8 M2556.9 1370.6V1398.7 M2553.4 1363.8h7v6.8h-7Z M2567.4 1345.8V1354.1 M2567.4 1361.6V1367.2 M2563.9 1354.1h7v7.5h-7Z M2577.9 1300.8V1332.3 M2577.9 1352.6V1360.5 M2574.4 1332.3h7v20.3h-7Z M2588.4 1227.6V1322.6 M2584.9 1322.6h7v8.1h-7Z M2609.5 1393.1V1405.5 M2609.5 1442.7V1455 M2606 1405.5h7v37.2h-7Z M2620 1332.3V1351.4 M2620 1402.1V1405.5 M2616.5 1351.4h7v50.7h-7Z M2630.5 1333.4V1349.6 M2630.5 1351.4V1379.6 M2627 1349.6h7v1.8h-7Z M2651.5 1309.8V1349.6 M2651.5 1360.5V1408.9 M2648 1349.6h7v10.9h-7Z M2672.5 1394.2V1399.9 M2672.5 1407.7V1423.5 M2669 1399.9h7v7.8h-7Z M2693.5 1343.6V1422.4 M2693.5 1451.7V1459.5 M2690 1422.4h7v29.3h-7Z M2704 1384.1V1402.1 M2704 1421.3V1424.6 M2700.5 1402.1h7v19.2h-7Z M2714.5 1286.1V1396.5 M2714.5 1402.1V1432.5 M2711 1396.5h7v5.6h-7Z M2725 1327.8V1342.4 M2725 1395.4V1451.7 M2721.5 1342.4h7v53h-7Z M2735.5 1330V1339 M2735.5 1340.8V1346.9 M2732 1339h7v1.8h-7Z M2746 1304.1V1333.4 M2746 1336.8V1348 M2742.5 1333.4h7v3.4h-7Z M2756.5 1305.2V1328.9 M2753 1328.9h7v2.2h-7Z M2767 1225.3V1237.7 M2767 1328.9V1330 M2763.5 1237.7h7v91.2h-7Z M2788 1282.7V1300.7 M2788 1389.7V1390.8 M2784.5 1300.7h7v89h-7Z M2809 1247.8V1253 M2809 1304.1V1305.2 M2805.5 1253h7v51.1h-7Z M2819.5 1221.9V1241 M2819.5 1252.3V1266.9 M2816 1241h7v11.3h-7Z M2830 1202.7V1238.8 M2830 1239.9V1248.9 M2826.5 1238.8h7v1.1h-7Z M2840.5 1036.6V1050.1 M2840.5 1238.2V1253.9 M2837 1050.1h7v188.1h-7Z M2872.1 1032.5V1039.3 M2872.1 1079.4V1080.5 M2868.6 1039.3h7v40.1h-7Z M2882.6 993.8V1006.2 M2882.6 1037.7V1038.8 M2879.1 1006.2h7v31.5h-7Z M2914.1 981.4V1060.9 M2914.1 1070.8V1071.5 M2910.6 1060.9h7v9.9h-7Z M2956.1 1047.8V1072.6 M2956.1 1091.8V1109.8 M2952.6 1072.6h7v19.2h-7Z M2987.6 1087.3V1100.8 M2987.6 1117.7V1122.2 M2984.1 1100.8h7v16.9h-7Z M2998.1 1054.6V1079.4 M2998.1 1085V1092.9 M2994.6 1079.4h7v5.6h-7Z M3008.6 1052.3V1078.2 M3008.6 1079.4V1087.3 M3005.1 1078.2h7v1.2h-7Z M3029.6 1037.7V1047.8 M3029.6 1097.4V1110.9 M3026.1 1047.8h7v49.6h-7Z M3040.1 948.1V1020.1 M3040.1 1047.2V1059.5 M3036.6 1020.1h7v27.1h-7Z M3061.1 985.2V999.9 M3061.1 1022.4V1023.5 M3057.6 999.9h7v22.5h-7Z M3071.6 951.4V969.5 M3071.6 997.6V1005.5 M3068.1 969.5h7v28.1h-7Z M3103.1 797.2V812.3 M3099.6 812.3h7v197.7h-7Z M3113.6 797.2V809.1 M3113.6 810.7V833.2 M3110.1 809.1h7v1.6h-7Z M3145.2 791.5V801.7 M3145.2 833.2V836.6 M3141.7 801.7h7v31.5h-7Z M3155.7 774.6V779.2 M3155.7 800.1V816.3 M3152.2 779.2h7v20.9h-7Z" stroke="#d4504c" stroke-width="1.3" fill="none"/>
<path d="M99.1 427.1 C114.5 436.6 159.1 463.9 191.3 483.9 C223.6 503.9 258.8 526.1 292.6 547.2 C326.4 568.3 368.7 594.9 394 610.5 C419.3 626.1 427.7 631.6 444.6 640.9 C461.5 650.2 476.7 658.2 495.3 666.2 C513.9 674.2 534.9 682.4 556 689 C577.1 695.6 605 701.5 621.9 705.7 C638.8 709.9 636.3 707.6 657.4 714.3 C678.5 721 725 738.4 748.6 745.8 C772.2 753.2 780.6 753.8 799.2 758.9 C817.8 764 843.1 773 860 776.7 C876.9 780.4 881.1 780.6 900.5 781.2 C919.9 781.8 953.7 781.5 976.5 780.2 C999.3 778.9 1016.7 775 1037.3 773.6 C1057.9 772.2 1076.9 771.5 1100 771.6 C1123.1 771.7 1144.8 774.1 1176 774.1 C1207.2 774.1 1259.5 773.8 1287.4 771.6 C1315.3 769.4 1319.6 763 1343.2 761 C1366.8 759 1398.1 760.8 1429.3 759.9 C1460.5 759 1496.8 757.2 1530.6 755.9 C1564.4 754.6 1602.4 752.3 1631.9 752.3 C1661.5 752.3 1674.1 757.2 1707.9 755.9 C1741.7 754.6 1805 746.1 1834.5 744.7 C1864 743.3 1864.1 745.2 1885.2 747.3 C1906.3 749.4 1935.9 754.9 1961.2 757.4 C1986.5 759.9 2010.7 761.9 2037.2 762.5 C2063.7 763.1 2095.7 761.9 2120 761.3 C2144.3 760.7 2163.1 759 2183.3 758.7 C2203.5 758.4 2216.8 758.6 2241.4 759.7 C2266 760.8 2280.9 764.1 2331.1 765.5 C2381.2 766.9 2489.5 764.5 2542.3 768.2 C2595.1 771.9 2617.1 781.8 2647.9 787.7 C2678.7 793.6 2702.4 799.1 2727 803.5 C2751.6 807.9 2764.9 811.9 2795.7 814.1 C2826.5 816.3 2870.5 814.1 2911.8 816.7 C2953.2 819.3 3013 825.7 3043.8 829.9 C3074.6 834.1 3078.3 839.3 3096.6 842.1 C3114.9 844.9 3144.1 846 3153.6 846.8" stroke="#d6605a" stroke-width="1.3" fill="none" stroke-linejoin="round"/>
<path d="M99.1 618.1 C106 621 125.3 628.2 140.7 635.8 C156.1 643.4 174.4 654 191.3 663.7 C208.2 673.4 225.1 685.7 242 694.1 C258.9 702.5 275.7 706.7 292.6 714.3 C309.5 721.9 326.4 729.6 343.3 739.7 C360.2 749.8 377.1 764.1 394 775.1 C410.9 786.1 427.7 797 444.6 805.5 C461.5 814 478.4 818.6 495.3 825.8 C512.2 833 529 841.4 545.9 848.6 C562.8 855.8 579.7 862.1 596.6 868.9 C613.5 875.6 630.3 882.4 647.2 889.1 C664.1 895.9 681 901.8 697.9 909.4 C714.8 917 731.7 927.5 748.6 934.7 C765.5 941.9 782.3 946.6 799.2 952.5 C816.1 958.4 833 965.2 849.9 970.2 C866.8 975.2 885.3 979.8 900.5 982.8 C915.7 985.8 924.2 988.3 941.1 987.9 C958 987.5 983.3 983.7 1001.9 980.3 C1020.5 976.9 1036.2 972.9 1052.5 967.6 C1068.8 962.3 1079.4 956.8 1100 948.4 C1120.6 940 1150.7 929 1176 917 C1201.3 905 1222.5 892.5 1252 876.5 C1281.5 860.5 1319.5 845.2 1353.3 820.7 C1387.1 796.2 1420.8 753.1 1454.6 729.5 C1488.4 705.9 1526.4 694.1 1555.9 678.9 C1585.5 663.7 1606.6 648.5 1631.9 638.4 C1657.2 628.3 1682.6 628.2 1707.9 618.1 C1733.2 608 1758.6 589.9 1783.9 577.6 C1809.2 565.4 1842.2 551.7 1859.9 544.6 C1877.6 537.5 1880.6 537.6 1890 535.3 C1899.4 533 1900.2 531.3 1916.2 530.9 C1932.2 530.5 1961.3 530.2 1986 533.1 C2010.7 536 2026.7 537.9 2064.5 548.4 C2102.3 558.9 2167.8 575.3 2212.9 596.4 C2258 617.5 2301.7 652.4 2335.1 674.9 C2368.5 697.4 2386.1 711.6 2413.6 731.6 C2441.1 751.6 2473.2 775.2 2500 794.9 C2526.8 814.6 2553.6 833.8 2574.5 850 C2595.4 866.2 2607.4 875.8 2625.2 892.2 C2643 908.6 2662.7 932.5 2681.5 948.5 C2700.3 964.5 2719 974.9 2737.8 988 C2756.6 1001.1 2778.6 1015.9 2794.1 1027.4 C2809.6 1038.9 2813 1047.5 2830.7 1056.9 C2848.3 1066.3 2874.6 1075.5 2900 1083.7 C2925.4 1091.9 2951.8 1097.5 2983.3 1105.9 C3014.8 1114.3 3060.7 1129.5 3089.2 1133.9 C3117.7 1138.4 3143.3 1132.8 3154.1 1132.6" stroke="#8a8a8a" stroke-width="1.2" fill="none" stroke-linejoin="round"/>
<path d="M99.1 685.5 C106 691 125.3 707.7 140.7 718.4 C156.1 729.1 174.4 739.5 191.3 749.8 C208.2 760.1 225.1 769.2 242 780.2 C258.9 791.2 275.7 803.9 292.6 815.7 C309.5 827.5 330.6 842.2 343.3 851.1 C356 860 360.2 861.3 368.6 868.9 C377.1 876.5 381.3 883.6 394 896.7 C406.7 909.8 427.7 932.6 444.6 947.4 C461.5 962.2 478.4 974.4 495.3 985.4 C512.2 996.4 529 1006.9 545.9 1013.2 C562.8 1019.5 579.7 1020 596.6 1023.4 C613.5 1026.8 630.3 1029.5 647.2 1033.5 C664.1 1037.5 681 1045 697.9 1047.7 C714.8 1050.4 730 1048.9 748.6 1049.7 C767.2 1050.5 790 1052.3 809.4 1052.8 C828.8 1053.3 849.9 1054.8 865.1 1052.8 C880.3 1050.8 887.8 1045.6 900.5 1041.1 C913.2 1036.6 924.2 1039.8 941.1 1025.9 C958 1012 979.1 981.6 1001.9 957.5 C1024.7 933.4 1046.2 906 1077.8 881.5 C1109.3 857 1156.3 840.1 1191.2 810.6 C1226.1 781.1 1256.2 739.7 1287.4 704.2 C1318.6 668.7 1350.7 624 1378.6 597.8 C1406.5 571.6 1429.3 562.8 1454.6 547.2 C1479.9 531.6 1505.3 517.2 1530.6 504.1 C1555.9 491 1589.7 476.7 1606.6 468.7 C1623.5 460.7 1619.2 456.4 1631.9 456 C1644.6 455.6 1661.5 464.4 1682.6 466.1 C1703.7 467.8 1737.5 467.6 1758.6 466.1 C1779.7 464.6 1796.5 457.4 1809.2 457 C1821.9 456.6 1821 456.7 1834.5 463.6 C1848 470.5 1864 478.2 1890 498.2 C1916 518.1 1963.5 565.1 1990.4 583.3 C2017.3 601.5 2026 595.7 2051.4 607.3 C2076.8 618.9 2117.6 637.5 2143.1 653.1 C2168.6 668.7 2184.6 682.9 2204.2 701.1 C2223.8 719.3 2240.6 744.8 2260.9 762.2 C2281.2 779.7 2304.5 789.1 2326.3 805.8 C2348.1 822.5 2368.5 840 2391.8 862.5 C2415.1 885 2448 923.3 2466 941.1 C2484 958.9 2481.3 954 2500 969.1 C2518.7 984.2 2550.3 1007.3 2578.1 1031.6 C2605.9 1055.9 2640.6 1089.7 2666.6 1114.9 C2692.6 1140.1 2714.3 1166.5 2734.3 1182.6 C2754.3 1198.6 2769.9 1203 2786.4 1211.2 C2802.9 1219.4 2813.2 1228.1 2833.2 1232 C2853.1 1235.9 2874.8 1235 2906.1 1234.6 C2937.3 1234.2 2988.6 1233.7 3020.7 1229.4 C3052.8 1225.1 3076.7 1218.6 3098.8 1208.6 C3120.9 1198.6 3144.3 1176.1 3153.4 1169.6" stroke="#f7962e" stroke-width="1.3" fill="none" stroke-linejoin="round"/>
<path d="M99.1 765 C100.5 767.5 100.3 768 107.5 780 C114.7 792 127.1 821.1 142.4 836.7 C157.7 852.3 180.2 856.3 199.1 873.8 C218 891.2 237.6 922.1 255.8 941.4 C274 960.7 292.2 974.8 308.2 989.4 C324.2 1004 340.2 1017.8 351.8 1028.7 C363.4 1039.6 369.3 1049.5 378 1054.9 C386.7 1060.4 392.6 1057 404.2 1061.4 C415.8 1065.8 434.7 1077.1 447.8 1081.1 C460.9 1085.1 469.6 1082.1 482.7 1085.4 C495.8 1088.7 516.1 1097.8 526.3 1100.7 C536.5 1103.6 536.5 1104 543.8 1102.9 C551.1 1101.8 558.4 1098.6 570 1094.2 C581.6 1089.8 599.8 1082.5 613.6 1076.7 C627.4 1070.9 638.5 1065.5 652.9 1059.3 C667.3 1053.1 684 1045.6 700 1039.6 C716 1033.6 730.4 1028.6 748.6 1023.4 C766.8 1018.2 788.3 1012.4 809.4 1008.2 C830.5 1004 858.3 1001.4 875.2 998 C892.1 994.6 899.4 991.2 910.7 987.9 C922 984.6 927.5 994.2 943.1 978 C958.7 961.8 983.8 924.9 1004.2 890.7 C1024.6 856.5 1045 805.6 1065.3 772.9 C1085.6 740.2 1104.5 721.2 1126.3 694.3 C1148.1 667.4 1175.1 641.9 1196.2 611.4 C1217.3 580.9 1235.6 534 1252.9 511.1 C1270.2 488.2 1286.5 485 1300 474 C1313.5 463 1317.1 452.7 1333.6 444.9 C1350.1 437.1 1378.7 433.2 1399.1 427.4 C1419.5 421.6 1437.6 413.3 1455.8 410 C1474 406.7 1489.3 403.1 1508.2 407.8 C1527.1 412.5 1549 429.9 1569.3 438.3 C1589.6 446.7 1611.4 447.4 1630.3 458 C1649.2 468.6 1661.6 491.4 1682.7 501.6 C1703.8 511.8 1738 518.7 1756.9 519.1 C1775.8 519.5 1784.5 505.3 1796.1 503.8 C1807.7 502.3 1811 501.8 1826.7 510.3 C1842.4 518.8 1870 533.6 1890 554.9 C1910 576.1 1924.9 615.6 1946.7 637.8 C1968.5 660 2000.5 675.3 2020.9 688 C2041.3 700.7 2054.4 702.6 2068.9 714.2 C2083.4 725.8 2094.4 742.5 2108.2 757.8 C2122 773.1 2137.3 792 2151.8 805.8 C2166.3 819.6 2183.7 831.7 2195.4 840.7 C2207.1 849.7 2208.9 851.7 2222.1 860 C2235.3 868.3 2254.9 876 2274.5 890.5 C2294.1 905 2318.1 925.4 2339.9 947.2 C2361.7 969 2387.2 1001.8 2405.4 1021.4 C2423.6 1041 2430.8 1048.3 2449 1065 C2467.2 1081.7 2492.6 1103.5 2514.4 1121.7 C2536.2 1139.9 2562.3 1157.4 2579.9 1174.1 C2597.5 1190.8 2598.6 1200.3 2620 1222.1 C2641.4 1243.9 2684.9 1287.2 2708.3 1304.9 C2731.7 1322.6 2740.4 1322.3 2760.3 1328.4 C2780.2 1334.5 2810.6 1344 2828 1341.4 C2845.4 1338.8 2845.4 1329.6 2864.5 1312.7 C2883.6 1295.8 2916.6 1265 2942.6 1239.8 C2968.6 1214.6 2995.5 1187.7 3020.7 1161.7 C3045.9 1135.7 3071.5 1110.1 3093.6 1083.6 C3115.7 1057.1 3143.4 1016.3 3153.4 1002.9" stroke="#f030f0" stroke-width="1.3" fill="none" stroke-linejoin="round"/>
<path d="M99 959.6 L109.5 977.4 L120 995.1 L130.5 996.6 L141 1008.4 L151.5 1018.7 L162 1026.1 L172.5 1018.7 L183 1005.4 L193.5 991.7 L204 976.5 L214.5 966.5 L225 952.7 L235.6 961.4 L246.1 957.6 L256.6 954.6 L267.1 971 L277.6 987.5 L288.1 1005.6 L298.6 1017 L309.1 1038.2 L319.6 1054.5 L330.1 1076 L340.6 1098 L351.1 1115.6 L361.6 1139.4 L372.1 1148.3 L382.6 1165.4 L393.1 1174.2 L403.6 1183.3 L414.1 1182.7 L424.6 1186.2 L435.1 1194.3 L445.6 1188.9 L456.1 1178.1 L466.6 1160 L477.1 1144.8 L487.6 1123.3 L498.2 1116.9 L508.7 1094.9 L519.2 1079 L529.7 1061.4 L540.2 1041 L550.7 1026.3 L561.2 1012.4 L571.7 1001 L582.2 990.8 L592.7 979.8 L603.2 966.1 L613.7 966.8 L624.2 956.6 L634.7 952.1 L645.2 954.5 L655.7 965.1 L666.2 977.7 L676.7 987.9 L687.2 998.1 L697.7 1016.8 L708.2 1033.4 L718.7 1051.4 L729.2 1074 L739.7 1087.3 L750.2 1091.8 L760.8 1082 L771.3 1072.9 L781.8 1066.6 L792.3 1057.2 L802.8 1045.5 L813.3 1030 L823.8 1014.9 L834.3 996.6 L844.8 982.9 L855.3 971.3 L865.8 964.1 L876.3 950.2 L886.8 939.6 L897.3 930.8 L907.8 916.1 L918.3 898.4 L928.8 879.4 L939.3 867 L949.8 829.2 L960.3 789.8 L970.8 754.6 L981.3 728.2 L991.8 701.1 L1002.3 666.6 L1012.8 634 L1023.4 606 L1033.9 579 L1044.4 545.3 L1054.9 541.1 L1065.4 542.7 L1075.9 539.3 L1086.4 538.4 L1096.9 538.5 L1107.4 547.5 L1117.9 553.1 L1128.4 554.9 L1138.9 567 L1149.4 576.4 L1159.9 581.6 L1170.4 580.1 L1180.9 581.1 L1191.4 577.9 L1201.9 558.2 L1212.4 528.9 L1222.9 498.3 L1233.4 476 L1243.9 441.8 L1254.4 414.4 L1264.9 386.9 L1275.4 361.9 L1286 339.9 L1296.5 312.8 L1307 300.9 L1317.5 295.3 L1328 298.7 L1338.5 306.2 L1349 317 L1359.5 323.3 L1370 333 L1380.5 349.4 L1391 368.5 L1401.5 395.8 L1412 419.1 L1422.5 443 L1433 462.8 L1443.5 469.2 L1454 481.6 L1464.5 497.6 L1475 515.4 L1485.5 517.2 L1496 516 L1506.5 516.5 L1517 522.8 L1527.5 522.1 L1538 516.4 L1548.6 518.3 L1559.1 511.6 L1569.6 496.6 L1580.1 481.9 L1590.6 473.7 L1601.1 461.9 L1611.6 442.9 L1622.1 419.4 L1632.6 402.9 L1643.1 426.9 L1653.6 445.6 L1664.1 469.5 L1674.6 494.7 L1685.1 512.1 L1695.6 533.5 L1706.1 553.5 L1716.6 575.9 L1727.1 596.5 L1737.6 619.5 L1748.1 607.5 L1758.6 597.4 L1769.1 565.9 L1779.6 541 L1790.1 525.1 L1800.6 514 L1811.2 510.2 L1821.7 513.6 L1832.2 527.4 L1842.7 544.9 L1853.2 558.5 L1863.7 569.8 L1874.2 597.3 L1884.7 623.9 L1895.2 649.1 L1905.7 679.2 L1916.2 709.1 L1926.7 733.9 L1937.2 749.7 L1947.7 758.1 L1958.2 772.5 L1968.7 788.5 L1979.2 806.7 L1989.7 823 L2000.2 834 L2010.7 837.8 L2021.2 827.3 L2031.7 820.9 L2042.2 811.8 L2052.7 804 L2063.2 798.7 L2073.8 799.4 L2084.3 799.7 L2094.8 800.3 L2105.3 800 L2115.8 802.5 L2126.3 814.2 L2136.8 823.1 L2147.3 843 L2157.8 863.5 L2168.3 877.7 L2178.8 886 L2189.3 889.5 L2199.8 901.6 L2210.3 918.5 L2220.8 937.2 L2231.3 960.9 L2241.8 981.8 L2252.3 992 L2262.8 998 L2273.3 1001.1 L2283.8 1018.1 L2294.3 1041.2 L2304.8 1054.3 L2315.3 1063.1 L2325.8 1061.3 L2336.4 1059.7 L2346.9 1065.5 L2357.4 1071.1 L2367.9 1082.5 L2378.4 1094.9 L2388.9 1094.7 L2399.4 1104.7 L2409.9 1111.2 L2420.4 1121.6 L2430.9 1136.2 L2441.4 1149.6 L2451.9 1160.4 L2462.4 1172.7 L2472.9 1181.7 L2483.4 1195.2 L2493.9 1209.1 L2504.4 1208.2 L2514.9 1213.5 L2525.4 1217.2 L2535.9 1226.7 L2546.4 1243.3 L2556.9 1258 L2567.4 1271 L2577.9 1282.5 L2588.4 1289.9 L2599 1310.4 L2609.5 1329.9 L2620 1345.3 L2630.5 1358.5 L2641 1365.5 L2651.5 1363.2 L2662 1367.6 L2672.5 1372.2 L2683 1384.1 L2693.5 1394.1 L2704 1390 L2714.5 1389.1 L2725 1388.2 L2735.5 1387.2 L2746 1384.5 L2756.5 1382.4 L2767 1365.4 L2777.5 1364.4 L2788 1349.3 L2798.5 1337.5 L2809 1322.5 L2819.5 1307 L2830 1296.6 L2840.5 1267.7 L2851 1239.4 L2861.6 1214.5 L2872.1 1194.6 L2882.6 1156.3 L2893.1 1129.1 L2903.6 1105.8 L2914.1 1086.6 L2924.6 1068.9 L2935.1 1051.2 L2945.6 1055.5 L2956.1 1057.7 L2966.6 1057.9 L2977.1 1065.9 L2987.6 1075.3 L2998.1 1080.4 L3008.6 1081.1 L3019.1 1084.5 L3029.6 1082.9 L3040.1 1078.7 L3050.6 1071.6 L3061.1 1064.3 L3071.6 1053.1 L3082.1 1038.3 L3092.6 1029.2 L3103.1 1002.5 L3113.6 975.6 L3124.2 948.4 L3134.7 926.9 L3145.2 905.1 L3155.7 880.9" stroke="#1c1c9c" stroke-width="1.3" fill="none" stroke-linejoin="round"/>
<path d="M99 1039.4 L109.5 1067.5 L120 1083.2 L130.5 1051.3 L141 1028.5 L151.5 1006 L162 980.5 L172.5 958.4 L183 964.4 L193.5 954.9 L204 946.9 L214.5 952.6 L225 947 L235.6 958.4 L246.1 960.3 L256.6 962.4 L267.1 989.3 L277.6 1027.9 L288.1 1052.7 L298.6 1073.7 L309.1 1113.9 L319.6 1119.7 L330.1 1124.1 L340.6 1143.2 L351.1 1157.5 L361.6 1164.9 L372.1 1176.8 L382.6 1206.7 L393.1 1205.2 L403.6 1209.1 L414.1 1200.5 L424.6 1195.5 L435.1 1181.9 L445.6 1172.5 L456.1 1147.1 L466.6 1119.5 L477.1 1094.1 L487.6 1064.8 L498.2 1061.3 L508.7 1042.7 L519.2 1038.6 L529.7 1028.7 L540.2 1017.3 L550.7 991.3 L561.2 982.1 L571.7 963.3 L582.2 952.9 L592.7 942.3 L603.2 941 L613.7 951.6 L624.2 949.9 L634.7 951.3 L645.2 966.7 L655.7 989.1 L666.2 1003.8 L676.7 1026 L687.2 1044.9 L697.7 1066.8 L708.2 1077.6 L718.7 1098.9 L729.2 1122.1 L739.7 1129.6 L750.2 1116.8 L760.8 1086.4 L771.3 1046.8 L781.8 1011.1 L792.3 984.8 L802.8 974.2 L813.3 973.7 L823.8 983 L834.3 982 L844.8 981 L855.3 968.4 L865.8 954.6 L876.3 917.3 L886.8 897.3 L897.3 880.5 L907.8 863.7 L918.3 842.3 L928.8 841.4 L939.3 836.7 L949.8 777.9 L960.3 715.9 L970.8 667 L981.3 615.1 L991.8 565.6 L1002.3 555.4 L1012.8 552 L1023.4 545 L1033.9 543 L1044.4 525 L1054.9 526.9 L1065.4 533.4 L1075.9 533.7 L1086.4 533.8 L1096.9 552.1 L1107.4 568.1 L1117.9 572.8 L1128.4 576.2 L1138.9 600.2 L1149.4 600.8 L1159.9 595.1 L1170.4 587.5 L1180.9 586.1 L1191.4 555.6 L1201.9 515.7 L1212.4 462.6 L1222.9 409.1 L1233.4 365.8 L1243.9 328 L1254.4 313.1 L1264.9 311.1 L1275.4 314.7 L1286 314 L1296.5 297.5 L1307 288.7 L1317.5 279.5 L1328 282.8 L1338.5 298.5 L1349 336.5 L1359.5 357.8 L1370 386.5 L1380.5 416.1 L1391 438.4 L1401.5 455.1 L1412 480.4 L1422.5 499.5 L1433 509.4 L1443.5 500 L1454 508 L1464.5 514.9 L1475 531.3 L1485.5 525 L1496 532 L1506.5 525 L1517 530.7 L1527.5 512.9 L1538 507.7 L1548.6 504.5 L1559.1 498.2 L1569.6 462.6 L1580.1 451 L1590.6 439.7 L1601.1 419.3 L1611.6 387.5 L1622.1 376.2 L1632.6 354.8 L1643.1 414.1 L1653.6 471.9 L1664.1 551.5 L1674.6 613.1 L1685.1 669.4 L1695.6 653 L1706.1 635 L1716.6 600.3 L1727.1 580 L1737.6 569.6 L1748.1 562 L1758.6 559.7 L1769.1 531.5 L1779.6 502.1 L1790.1 480.7 L1800.6 465.9 L1811.2 460.7 L1821.7 495.7 L1832.2 552.7 L1842.7 609.1 L1853.2 651.1 L1863.7 679 L1874.2 698.9 L1884.7 695.1 L1895.2 689.1 L1905.7 707.4 L1916.2 739.2 L1926.7 768.9 L1937.2 804.3 L1947.7 827.1 L1958.2 837.6 L1968.7 837.8 L1979.2 844.5 L1989.7 841.7 L2000.2 840.9 L2010.7 838 L2021.2 816.7 L2031.7 797.3 L2042.2 781.9 L2052.7 767.1 L2063.2 759.5 L2073.8 782 L2084.3 802.2 L2094.8 818.6 L2105.3 833 L2115.8 845.6 L2126.3 846.5 L2136.8 844.1 L2147.3 867.5 L2157.8 894.1 L2168.3 909.8 L2178.8 925.5 L2189.3 934.9 L2199.8 935.7 L2210.3 942.9 L2220.8 964.6 L2231.3 996.3 L2241.8 1028.8 L2252.3 1048.3 L2262.8 1053 L2273.3 1037.5 L2283.8 1039.8 L2294.3 1053.6 L2304.8 1060.3 L2315.3 1073.1 L2325.8 1085 L2336.4 1079.5 L2346.9 1077.5 L2357.4 1081.8 L2367.9 1092 L2378.4 1104.7 L2388.9 1109.8 L2399.4 1132 L2409.9 1140.6 L2420.4 1151.2 L2430.9 1167.8 L2441.4 1189.3 L2451.9 1188.8 L2462.4 1204.8 L2472.9 1212.2 L2483.4 1222.7 L2493.9 1228.9 L2504.4 1227.5 L2514.9 1222.3 L2525.4 1222.3 L2535.9 1230.7 L2546.4 1257.7 L2556.9 1288.4 L2567.4 1319.7 L2577.9 1342.6 L2588.4 1349.1 L2599 1363.1 L2609.5 1371.4 L2620 1370.9 L2630.5 1374.4 L2641 1381.9 L2651.5 1363.3 L2662 1363.8 L2672.5 1373.5 L2683 1393.9 L2693.5 1406.3 L2704 1416.8 L2714.5 1414.5 L2725 1403 L2735.5 1380.5 L2746 1362.7 L2756.5 1348 L2767 1316.3 L2777.5 1325.7 L2788 1318.1 L2798.5 1312.2 L2809 1297 L2819.5 1297.7 L2830 1267.5 L2840.5 1217.4 L2851 1166.6 L2861.6 1131.9 L2872.1 1091.5 L2882.6 1045 L2893.1 1040.7 L2903.6 1045 L2914.1 1041.3 L2924.6 1046.3 L2935.1 1057.3 L2945.6 1070.2 L2956.1 1070.4 L2966.6 1074.5 L2977.1 1085.5 L2987.6 1093.3 L2998.1 1090.6 L3008.6 1091.8 L3019.1 1094.5 L3029.6 1080.3 L3040.1 1064.1 L3050.6 1052.5 L3061.1 1036.8 L3071.6 1011.7 L3082.1 996.3 L3092.6 994.3 L3103.1 952.5 L3113.6 914.3 L3124.2 885 L3134.7 857.5 L3145.2 815.9 L3155.7 809.3" stroke="#111111" stroke-width="1.3" fill="none" stroke-linejoin="round"/>
<path d="M93 779.2H3207" stroke="#2a8ff0" stroke-width="1.6" stroke-dasharray="6 5" fill="none"/>
<path d="M3133 779.2H3155M3155.4 772V779" stroke="#222" stroke-width="1.6" fill="none"/>
<g fill="#1e6fb8"><rect x="297.6" y="47" width="6" height="6" transform="rotate(45 300.6 50)" rx="1"/><rect x="423.6" y="47" width="6" height="6" transform="rotate(45 426.6 50)" rx="1"/><rect x="486.6" y="47" width="6" height="6" transform="rotate(45 489.6 50)" rx="1"/><rect x="612.7" y="47" width="6" height="6" transform="rotate(45 615.7 50)" rx="1"/><rect x="738.7" y="47" width="6" height="6" transform="rotate(45 741.7 50)" rx="1"/><rect x="759.8" y="47" width="6" height="6" transform="rotate(45 762.8 50)" rx="1"/><rect x="864.8" y="47" width="6" height="6" transform="rotate(45 867.8 50)" rx="1"/><rect x="917.3" y="47" width="6" height="6" transform="rotate(45 920.3 50)" rx="1"/><rect x="948.8" y="47" width="6" height="6" transform="rotate(45 951.8 50)" rx="1"/><rect x="990.8" y="47" width="6" height="6" transform="rotate(45 993.8 50)" rx="1"/><rect x="1053.9" y="47" width="6" height="6" transform="rotate(45 1056.9 50)" rx="1"/><rect x="1179.9" y="47" width="6" height="6" transform="rotate(45 1182.9 50)" rx="1"/><rect x="1242.9" y="47" width="6" height="6" transform="rotate(45 1245.9 50)" rx="1"/><rect x="1862.7" y="47" width="6" height="6" transform="rotate(45 1865.7 50)" rx="1"/><rect x="1873.2" y="47" width="6" height="6" transform="rotate(45 1876.2 50)" rx="1"/><rect x="1999.2" y="47" width="6" height="6" transform="rotate(45 2002.2 50)" rx="1"/><rect x="2020.2" y="47" width="6" height="6" transform="rotate(45 2023.2 50)" rx="1"/><rect x="2272.3" y="47" width="6" height="6" transform="rotate(45 2275.3 50)" rx="1"/><rect x="2566.4" y="47" width="6" height="6" transform="rotate(45 2569.4 50)" rx="1"/><rect x="2692.5" y="47" width="6" height="6" transform="rotate(45 2695.5 50)" rx="1"/><rect x="2818.5" y="47" width="6" height="6" transform="rotate(45 2821.5 50)" rx="1"/><rect x="2944.6" y="47" width="6" height="6" transform="rotate(45 2947.6 50)" rx="1"/><rect x="3060.1" y="47" width="6" height="6" transform="rotate(45 3063.1 50)" rx="1"/><rect x="3070.6" y="47" width="6" height="6" transform="rotate(45 3073.6 50)" rx="1"/></g>
<path d="M1302.7 188.8H1314.6M1307.2 185V192M377 1358.5H389M382.8 1355V1362M2687 1459.5H2699M2693.2 1456V1463" stroke="#111" stroke-width="1.6" fill="none"/>
<g font-family="Liberation Sans, sans-serif" font-size="20.5" font-weight="bold"><text x="1315.8" y="182.5" fill="#d05450">1987.34</text><text x="392.3" y="1379.6" fill="#6fa866">1892.85</text><text x="2702" y="1479" fill="#6fa866">1884.70</text><text x="3051" y="772.4" fill="#d05450">1939.67</text></g>
<rect x="3208" y="780" width="118" height="29" fill="#fff" stroke="#f39a3c" stroke-width="2.2"/>
<text x="3213" y="802" font-family="Liberation Sans, sans-serif" font-size="20.5" fill="#f0a050">1939.65</text>
<path d="M3313 771L3320.5 764.5L3328 771ZM3313 779L3320.5 772.5L3328 779Z" fill="#f39a3c"/>
<g font-family="Liberation Sans, sans-serif" font-size="23"><text x="95" y="21.7" fill="#222" textLength="83" lengthAdjust="spacingAndGlyphs">现货黄金</text><text x="187" y="21.7" fill="#f08a28" textLength="80.5" lengthAdjust="spacingAndGlyphs">【240分】</text><text x="318" y="21.7" fill="#222" textLength="232" lengthAdjust="spacingAndGlyphs">MA(5,10,30,60,100,200)</text><text x="560" y="21.7" fill="#222" textLength="127" lengthAdjust="spacingAndGlyphs">MA5:1937.21</text><text x="705" y="21.7" fill="#2b2b9b" textLength="142" lengthAdjust="spacingAndGlyphs">MA10:1931.45</text><text x="862" y="21.7" fill="#e040e0" textLength="142" lengthAdjust="spacingAndGlyphs">MA30:1921.62</text><text x="1020" y="21.7" fill="#f0a040" textLength="142" lengthAdjust="spacingAndGlyphs">MA60:1908.10</text><text x="1177.5" y="21.7" fill="#9a9a9a" textLength="152" lengthAdjust="spacingAndGlyphs">MA100:1911.01</text><text x="1347" y="21.7" fill="#e06060" textLength="153.6" lengthAdjust="spacingAndGlyphs">MA200:1934.12</text></g>
<rect x="292" y="1.5" width="20" height="21" fill="none" stroke="#2a2a8a" stroke-width="2"/>
<path d="M294 14L298 7L302 12L306 5L310 9" stroke="#e03030" stroke-width="1.3" fill="none"/><path d="M294 18L298 12L302 16L306 10L310 13" stroke="#3040c0" stroke-width="1.3" fill="none"/>
<rect x="2961" y="-2" width="129.5" height="26" fill="#fff" stroke="#606a78" stroke-width="1.6"/>
<text x="2973" y="19.5" font-family="Liberation Sans, sans-serif" font-size="20" fill="#50555e" textLength="83" lengthAdjust="spacingAndGlyphs">全部主题</text>
<path d="M3060.5 7H3074.5L3067.5 20Z" fill="#3a3f48"/>
<rect x="3097" y="0.8" width="23.5" height="22.2" fill="#fff" stroke="#2a7fd0" stroke-width="1.6"/>
<rect x="3125" y="0.8" width="23.5" height="22.2" fill="#fff" stroke="#2a7fd0" stroke-width="1.6"/>
<rect x="3153" y="0.8" width="23.5" height="22.2" fill="#fff" stroke="#2a7fd0" stroke-width="1.6"/>
<rect x="3181.3" y="0.8" width="23.5" height="22.2" fill="#fff" stroke="#2a7fd0" stroke-width="1.6"/>
<path d="M3100.5 11.5H3105M3113 11.5H3117.5M3109 3.5V7.5M3109 15.5V19.5" stroke="#2a7fd0" stroke-width="2.2" fill="none"/>
<path d="M3129.3 3V19M3128.5 18.5H3144.5M3136.9 8V14" stroke="#2a7fd0" stroke-width="1.5" fill="none"/><path d="M3142.5 7.5L3137.5 11L3142.5 14.5Z" fill="#2a7fd0"/>
<path d="M3157 3V19M3156 18.5H3172.5" stroke="#2a7fd0" stroke-width="1.5" fill="none"/><path d="M3160.5 7.5L3170.5 11.5L3160.5 16Z" fill="#2a7fd0"/>
<path d="M3192.5 4.5H3186V19.5H3192.5M3192 11.5H3199" stroke="#2a7fd0" stroke-width="1.6" fill="none"/><path d="M3197.5 7.5L3203 11.5L3197.5 15.5Z" fill="#2a7fd0"/>
<svg x="0" y="1558" width="3328" height="278" overflow="hidden"><g transform="translate(0,-1558)">
<path d="M99 1775.6 L109.5 1768.2 L120 1761.1 L130.5 1730.1 L141 1747 L151.5 1746.3 L162 1738.3 L172.5 1735.6 L183 1730 L193.5 1738 L204 1738.4 L214.5 1740.8 L225 1728.5 L235.6 1735.2 L246.1 1737.1 L256.6 1737.7 L267.1 1755.7 L277.6 1752.8 L288.1 1749.2 L298.6 1748.2 L309.1 1760.6 L319.6 1754.9 L330.1 1750.6 L340.6 1757.2 L351.1 1751.7 L361.6 1759.8 L372.1 1758.3 L382.6 1766.2 L393.1 1746.7 L403.6 1746.3 L414.1 1746.8 L424.6 1748.2 L435.1 1751.5 L445.6 1735.8 L456.1 1721.7 L466.6 1720.5 L477.1 1724 L487.6 1724.7 L498.2 1732.3 L508.7 1706.5 L519.2 1716.9 L529.7 1715.9 L540.2 1715.2 L550.7 1711.1 L561.2 1699.9 L571.7 1703.1 L582.2 1709.3 L592.7 1708.5 L603.2 1712.3 L613.7 1709.7 L624.2 1702.4 L634.7 1712.1 L645.2 1723.7 L655.7 1732.7 L666.2 1723.1 L676.7 1722 L687.2 1727.8 L697.7 1740.4 L708.2 1740.4 L718.7 1740.2 L729.2 1740.7 L739.7 1731.4 L750.2 1726.9 L760.8 1710.3 L771.3 1702.4 L781.8 1706.9 L792.3 1707.5 L802.8 1718.6 L813.3 1711.8 L823.8 1712.2 L834.3 1706.7 L844.8 1707.4 L855.3 1707 L865.8 1698.7 L876.3 1679.7 L886.8 1692.6 L897.3 1696.8 L907.8 1696.5 L918.3 1685.7 L928.8 1683.7 L939.3 1692.6 L949.8 1659.7 L960.3 1657.9 L970.8 1657.8 L981.3 1654.9 L991.8 1666.4 L1002.3 1660.2 L1012.8 1664 L1023.4 1661.7 L1033.9 1661.5 L1044.4 1657.8 L1054.9 1669 L1065.4 1678.2 L1075.9 1671.4 L1086.4 1671 L1096.9 1685.1 L1107.4 1692.4 L1117.9 1689.8 L1128.4 1681.2 L1138.9 1702.1 L1149.4 1693.6 L1159.9 1694.1 L1170.4 1690 L1180.9 1686.2 L1191.4 1679.6 L1201.9 1666.4 L1212.4 1659.4 L1222.9 1656.2 L1233.4 1662.1 L1243.9 1660 L1254.4 1662.8 L1264.9 1663 L1275.4 1662.8 L1286 1663.9 L1296.5 1651.7 L1307 1664.5 L1317.5 1664.4 L1328 1679.4 L1338.5 1694.3 L1349 1697.3 L1359.5 1691.8 L1370 1699.6 L1380.5 1712.8 L1391 1718.6 L1401.5 1715.9 L1412 1717.7 L1422.5 1718.7 L1433 1722.6 L1443.5 1709.3 L1454 1723.9 L1464.5 1724.5 L1475 1734.4 L1485.5 1715.8 L1496 1715.8 L1506.5 1716.5 L1517 1729.2 L1527.5 1716.7 L1538 1711 L1548.6 1713 L1559.1 1710.7 L1569.6 1696.5 L1580.1 1708.2 L1590.6 1702.9 L1601.1 1697.1 L1611.6 1686.4 L1622.1 1691.2 L1632.6 1692.5 L1643.1 1751.4 L1653.6 1744.5 L1664.1 1749.1 L1674.6 1738.2 L1685.1 1735 L1695.6 1736.2 L1706.1 1728.3 L1716.6 1721.3 L1727.1 1722.1 L1737.6 1726.4 L1748.1 1729.8 L1758.6 1726 L1769.1 1700 L1779.6 1700 L1790.1 1711.1 L1800.6 1719.6 L1811.2 1723.2 L1821.7 1727 L1832.2 1741.9 L1842.7 1749.8 L1853.2 1747.1 L1863.7 1739.4 L1874.2 1737 L1884.7 1735.5 L1895.2 1743 L1905.7 1756.1 L1916.2 1758.7 L1926.7 1754.1 L1937.2 1756.4 L1947.7 1754.9 L1958.2 1760.4 L1968.7 1754.5 L1979.2 1755.5 L1989.7 1749.6 L2000.2 1750 L2010.7 1754.7 L2021.2 1730.7 L2031.7 1733.2 L2042.2 1731.8 L2052.7 1732.6 L2063.2 1743.8 L2073.8 1748.3 L2084.3 1749 L2094.8 1743.3 L2105.3 1742 L2115.8 1751.8 L2126.3 1745.3 L2136.8 1742.6 L2147.3 1758.7 L2157.8 1760.2 L2168.3 1761 L2178.8 1754.1 L2189.3 1743.8 L2199.8 1753.6 L2210.3 1759.8 L2220.8 1770.4 L2231.3 1773.2 L2241.8 1763.6 L2252.3 1762.5 L2262.8 1754.8 L2273.3 1749.4 L2283.8 1765.6 L2294.3 1767.9 L2304.8 1758.6 L2315.3 1758.1 L2325.8 1751.7 L2336.4 1755.4 L2346.9 1760.7 L2357.4 1758.8 L2367.9 1763 L2378.4 1759.2 L2388.9 1755.4 L2399.4 1773.5 L2409.9 1755.2 L2420.4 1760.5 L2430.9 1762.6 L2441.4 1764.2 L2451.9 1765.7 L2462.4 1766.7 L2472.9 1765.1 L2483.4 1769.9 L2493.9 1766.8 L2504.4 1758.9 L2514.9 1755.4 L2525.4 1759.1 L2535.9 1771.1 L2546.4 1782.8 L2556.9 1780.2 L2567.4 1777.3 L2577.9 1770.8 L2588.4 1767.9 L2599 1785.2 L2609.5 1774.7 L2620 1760.4 L2630.5 1760 L2641 1761.7 L2651.5 1758.7 L2662 1768.1 L2672.5 1765.9 L2683 1773.8 L2693.5 1765.5 L2704 1759.9 L2714.5 1758.3 L2725 1743.8 L2735.5 1742.9 L2746 1741.4 L2756.5 1740.2 L2767 1717.3 L2777.5 1746.8 L2788 1728 L2798.5 1728.6 L2809 1718.6 L2819.5 1716.4 L2830 1715.9 L2840.5 1684.9 L2851 1684.9 L2861.6 1691.1 L2872.1 1685.2 L2882.6 1680.5 L2893.1 1685.5 L2903.6 1694.8 L2914.1 1693.1 L2924.6 1693.8 L2935.1 1693.4 L2945.6 1700.7 L2956.1 1697 L2966.6 1699.2 L2977.1 1707.9 L2987.6 1704.3 L2998.1 1700.1 L3008.6 1699.8 L3019.1 1704.2 L3029.6 1694.5 L3040.1 1689.1 L3050.6 1689.4 L3061.1 1685.2 L3071.6 1679.4 L3082.1 1679.8 L3092.6 1691.7 L3103.1 1659.3 L3113.6 1658.8 L3124.2 1662.8 L3134.7 1665.7 L3145.2 1661.1 L3155.7 1657.9" stroke="#ee22ee" stroke-width="1.2" fill="none" stroke-linejoin="round"/>
<path d="M99 1808.1 L109.5 1790.4 L120 1773.9 L130.5 1712.3 L141 1745.8 L151.5 1744.5 L162 1729.8 L172.5 1724.7 L183 1714.4 L193.5 1731.5 L204 1732.4 L214.5 1737.4 L225 1713.3 L235.6 1728 L246.1 1732.1 L256.6 1733.5 L267.1 1769.7 L277.6 1763.5 L288.1 1755.7 L298.6 1753.5 L309.1 1777.4 L319.6 1764.9 L330.1 1755.4 L340.6 1768.6 L351.1 1756.3 L361.6 1772.3 L372.1 1768.9 L382.6 1783.9 L393.1 1742.8 L403.6 1742 L414.1 1743 L424.6 1746.3 L435.1 1753.6 L445.6 1720.2 L456.1 1694.2 L466.6 1692.1 L477.1 1700.9 L487.6 1702.6 L498.2 1721.5 L508.7 1674.8 L519.2 1698 L529.7 1696.2 L540.2 1695.1 L550.7 1687.4 L561.2 1668.3 L571.7 1675.8 L582.2 1690.7 L592.7 1689.3 L603.2 1698.4 L613.7 1693.2 L624.2 1678.6 L634.7 1702.4 L645.2 1728 L655.7 1746.1 L666.2 1725.3 L676.7 1722.8 L687.2 1735 L697.7 1759.2 L708.2 1759.2 L718.7 1758.8 L729.2 1759.7 L739.7 1736.8 L750.2 1726.3 L760.8 1691.8 L771.3 1677.3 L781.8 1687.9 L792.3 1689.4 L802.8 1715.3 L813.3 1701.2 L823.8 1702.3 L834.3 1690.9 L844.8 1692.5 L855.3 1691.8 L865.8 1674.4 L876.3 1642 L886.8 1672.5 L897.3 1682 L907.8 1681.2 L918.3 1661.6 L928.8 1658.3 L939.3 1679.1 L949.8 1628.4 L960.3 1626.1 L970.8 1626 L981.3 1622.2 L991.8 1646.6 L1002.3 1637.1 L1012.8 1645 L1023.4 1641.4 L1033.9 1641 L1044.4 1634.9 L1054.9 1659.9 L1065.4 1679.5 L1075.9 1665.7 L1086.4 1664.9 L1096.9 1694.4 L1107.4 1708.5 L1117.9 1702.4 L1128.4 1683.3 L1138.9 1722.8 L1149.4 1704.6 L1159.9 1705.4 L1170.4 1696.6 L1180.9 1688.5 L1191.4 1675.2 L1201.9 1651.1 L1212.4 1639.7 L1222.9 1634.8 L1233.4 1647.4 L1243.9 1643.8 L1254.4 1649.7 L1264.9 1650.3 L1275.4 1649.9 L1286 1652.4 L1296.5 1629.7 L1307 1658.5 L1317.5 1658.2 L1328 1690.2 L1338.5 1718.3 L1349 1723.7 L1359.5 1710.4 L1370 1724.9 L1380.5 1747.6 L1391 1756.8 L1401.5 1750.1 L1412 1753.1 L1422.5 1755 L1433 1761.8 L1443.5 1727 L1454 1753.5 L1464.5 1754.6 L1475 1771 L1485.5 1728.2 L1496 1728.2 L1506.5 1729.6 L1517 1753.1 L1527.5 1725.6 L1538 1713.8 L1548.6 1717.8 L1559.1 1712.8 L1569.6 1684.5 L1580.1 1708.4 L1590.6 1698.2 L1601.1 1687.1 L1611.6 1668 L1622.1 1678.3 L1632.6 1681 L1643.1 1779.6 L1653.6 1766.8 L1664.1 1773.2 L1674.6 1753 L1685.1 1747 L1695.6 1749 L1706.1 1733.8 L1716.6 1720.7 L1727.1 1722.2 L1737.6 1730.6 L1748.1 1737.1 L1758.6 1729 L1769.1 1681.3 L1779.6 1681.3 L1790.1 1704 L1800.6 1720.5 L1811.2 1727.5 L1821.7 1734.7 L1832.2 1761 L1842.7 1773.7 L1853.2 1767.9 L1863.7 1751.6 L1874.2 1746.6 L1884.7 1743.3 L1895.2 1757.8 L1905.7 1780.4 L1916.2 1784.6 L1926.7 1774.1 L1937.2 1778.2 L1947.7 1774.5 L1958.2 1784.5 L1968.7 1770.4 L1979.2 1772.3 L1989.7 1758.1 L2000.2 1758.8 L2010.7 1769.2 L2021.2 1715.5 L2031.7 1721.6 L2042.2 1718.7 L2052.7 1720.6 L2063.2 1746.8 L2073.8 1756.5 L2084.3 1758 L2094.8 1744.4 L2105.3 1741.4 L2115.8 1763.4 L2126.3 1748.1 L2136.8 1741.7 L2147.3 1775.5 L2157.8 1778.2 L2168.3 1779.8 L2178.8 1763 L2189.3 1739.5 L2199.8 1760.7 L2210.3 1772.9 L2220.8 1791.8 L2231.3 1796.3 L2241.8 1775.1 L2252.3 1772.7 L2262.8 1755.7 L2273.3 1744.1 L2283.8 1776.8 L2294.3 1781 L2304.8 1761.4 L2315.3 1760.3 L2325.8 1746.7 L2336.4 1754.9 L2346.9 1766.2 L2357.4 1761.9 L2367.9 1770.9 L2378.4 1762 L2388.9 1753.3 L2399.4 1790.1 L2409.9 1752.3 L2420.4 1762.8 L2430.9 1766.9 L2441.4 1770 L2451.9 1773 L2462.4 1775.1 L2472.9 1771.4 L2483.4 1781.5 L2493.9 1774.1 L2504.4 1755.3 L2514.9 1747.3 L2525.4 1756.4 L2535.9 1782.9 L2546.4 1804 L2556.9 1798.1 L2567.4 1791.4 L2577.9 1776.6 L2588.4 1770 L2599 1802.9 L2609.5 1781 L2620 1753.1 L2630.5 1752.3 L2641 1756 L2651.5 1749.9 L2662 1770.1 L2672.5 1765.5 L2683 1781.6 L2693.5 1764.2 L2704 1752.6 L2714.5 1749.4 L2725 1720.8 L2735.5 1719.1 L2746 1716.2 L2756.5 1713.7 L2767 1673.4 L2777.5 1739.8 L2788 1708.6 L2798.5 1709.8 L2809 1693.8 L2819.5 1690.2 L2830 1689.5 L2840.5 1645.4 L2851 1645.4 L2861.6 1658.9 L2872.1 1650.6 L2882.6 1644.2 L2893.1 1655.3 L2903.6 1675.4 L2914.1 1672.6 L2924.6 1674.2 L2935.1 1673.3 L2945.6 1690.4 L2956.1 1683 L2966.6 1688.2 L2977.1 1708.4 L2987.6 1700.4 L2998.1 1691.1 L3008.6 1690.6 L3019.1 1701.4 L3029.6 1679.9 L3040.1 1669.1 L3050.6 1670 L3061.1 1661.5 L3071.6 1650.6 L3082.1 1651.5 L3092.6 1682.7 L3103.1 1627.6 L3113.6 1627 L3124.2 1635.8 L3134.7 1642.4 L3145.2 1635 L3155.7 1630" stroke="#1c1c9c" stroke-width="1.2" fill="none" stroke-linejoin="round"/>
<path d="M99 1835.6 L109.5 1795.4 L120 1760.4 L130.5 1663 L141 1731.4 L151.5 1729.4 L162 1705 L172.5 1696.7 L183 1679.7 L193.5 1719.5 L204 1721.7 L214.5 1733.8 L225 1684.7 L235.6 1720 L246.1 1729.4 L256.6 1732.8 L267.1 1801.6 L277.6 1787.1 L288.1 1768.7 L298.6 1763.3 L309.1 1807.4 L319.6 1778.2 L330.1 1756.7 L340.6 1783.7 L351.1 1756 L361.6 1788.1 L372.1 1780.2 L382.6 1807.6 L393.1 1724.8 L403.6 1723.2 L414.1 1725.8 L424.6 1734.3 L435.1 1753.1 L445.6 1684.5 L456.1 1645.7 L466.6 1642.8 L477.1 1666.4 L487.6 1671.1 L498.2 1719.9 L508.7 1639.3 L519.2 1686.6 L529.7 1683.4 L540.2 1681.2 L550.7 1666.6 L561.2 1634.7 L571.7 1652.8 L582.2 1687.4 L592.7 1684.3 L603.2 1706.1 L613.7 1692.7 L624.2 1659.4 L634.7 1715.1 L645.2 1762.4 L655.7 1789.6 L666.2 1741.5 L676.7 1736 L687.2 1759.1 L697.7 1797.5 L708.2 1797.5 L718.7 1796.3 L729.2 1797.9 L739.7 1735.9 L750.2 1711.6 L760.8 1649.9 L771.3 1630.5 L781.8 1656.5 L792.3 1660 L802.8 1720.4 L813.3 1691.1 L823.8 1693.6 L834.3 1670.3 L844.8 1674.4 L855.3 1672.7 L865.8 1637.9 L876.3 1596.7 L886.8 1660.7 L897.3 1679.5 L907.8 1678 L918.3 1641.8 L928.8 1636.3 L939.3 1681.8 L949.8 1604.8 L960.3 1602.3 L970.8 1602.1 L981.3 1597.3 L991.8 1647.1 L1002.3 1629.4 L1012.8 1645.5 L1023.4 1637.9 L1033.9 1636.9 L1044.4 1623.8 L1054.9 1680.4 L1065.4 1718.3 L1075.9 1681.4 L1086.4 1679.5 L1096.9 1736.1 L1107.4 1759 L1117.9 1741.4 L1128.4 1692.6 L1138.9 1760.5 L1149.4 1720.6 L1159.9 1722.2 L1170.4 1702.4 L1180.9 1684.7 L1191.4 1658.4 L1201.9 1620.9 L1212.4 1606.8 L1222.9 1601.1 L1233.4 1628.7 L1243.9 1622.8 L1254.4 1636.9 L1264.9 1638.5 L1275.4 1637.6 L1286 1645 L1296.5 1600.6 L1307 1665.3 L1317.5 1664.6 L1328 1727.7 L1338.5 1770.8 L1349 1778.3 L1359.5 1742.8 L1370 1766.7 L1380.5 1798.6 L1391 1810 L1401.5 1792.5 L1412 1797.1 L1422.5 1800 L1433 1811 L1443.5 1721.4 L1454 1773.2 L1464.5 1775.1 L1475 1802.2 L1485.5 1716.4 L1496 1716.4 L1506.5 1719.3 L1517 1767.8 L1527.5 1713.4 L1538 1692.5 L1548.6 1701.8 L1559.1 1692 L1569.6 1644.8 L1580.1 1698.2 L1590.6 1679.8 L1601.1 1661 L1611.6 1632.6 L1622.1 1655.8 L1632.6 1662 L1643.1 1814.6 L1653.6 1792.4 L1664.1 1800.4 L1674.6 1763 L1685.1 1751.8 L1695.6 1755.4 L1706.1 1724.8 L1716.6 1700.2 L1727.1 1703.9 L1737.6 1724.5 L1748.1 1740 L1758.6 1720.6 L1769.1 1637.8 L1779.6 1637.8 L1790.1 1691.3 L1800.6 1725.6 L1811.2 1739.3 L1821.7 1753.5 L1832.2 1797.1 L1842.7 1814.1 L1853.2 1800.5 L1863.7 1762.4 L1874.2 1751 L1884.7 1743.1 L1895.2 1775.2 L1905.7 1813.1 L1916.2 1819 L1926.7 1793.3 L1937.2 1801 L1947.7 1791.3 L1958.2 1810.7 L1968.7 1774.4 L1979.2 1779 L1989.7 1743 L2000.2 1745.1 L2010.7 1774.4 L2021.2 1667.9 L2031.7 1683.8 L2042.2 1678.8 L2052.7 1684.3 L2063.2 1751.2 L2073.8 1771 L2084.3 1774 L2094.8 1740.4 L2105.3 1733.3 L2115.8 1783.2 L2126.3 1747.1 L2136.8 1732.8 L2147.3 1799.2 L2157.8 1803.4 L2168.3 1805.9 L2178.8 1765.7 L2189.3 1717.1 L2199.8 1763.6 L2210.3 1786.2 L2220.8 1815.8 L2231.3 1822 L2241.8 1778 L2252.3 1773.1 L2262.8 1738.1 L2273.3 1715.9 L2283.8 1785.5 L2294.3 1792.8 L2304.8 1753.6 L2315.3 1751.4 L2325.8 1724.1 L2336.4 1744.4 L2346.9 1770.3 L2357.4 1760.5 L2367.9 1780.9 L2378.4 1759.1 L2388.9 1738.3 L2399.4 1813 L2409.9 1741.3 L2420.4 1761.5 L2430.9 1769.5 L2441.4 1775.6 L2451.9 1781.7 L2462.4 1786.2 L2472.9 1776.5 L2483.4 1799.4 L2493.9 1779.6 L2504.4 1733.7 L2514.9 1716.1 L2525.4 1743.4 L2535.9 1801.6 L2546.4 1832.1 L2556.9 1819.5 L2567.4 1804.9 L2577.9 1772.3 L2588.4 1758.2 L2599 1820.8 L2609.5 1779.5 L2620 1731.3 L2630.5 1729.8 L2641 1738.8 L2651.5 1726.8 L2662 1773.3 L2672.5 1763.4 L2683 1795.8 L2693.5 1758.8 L2704 1735.6 L2714.5 1729 L2725 1677.1 L2735.5 1674.4 L2746 1669.3 L2756.5 1664.9 L2767 1610.5 L2777.5 1745.7 L2788 1696 L2798.5 1698.3 L2809 1672.9 L2819.5 1667.3 L2830 1666.1 L2840.5 1607.7 L2851 1607.7 L2861.6 1636.3 L2872.1 1624.1 L2882.6 1615.1 L2893.1 1640.2 L2903.6 1683.1 L2914.1 1676.6 L2924.6 1680.3 L2935.1 1678 L2945.6 1718.9 L2956.1 1696.9 L2966.6 1709.3 L2977.1 1752.7 L2987.6 1727.7 L2998.1 1701.1 L3008.6 1699.6 L3019.1 1726.8 L3029.6 1669.4 L3040.1 1647.3 L3050.6 1649.7 L3061.1 1632.9 L3071.6 1614.6 L3082.1 1617.2 L3092.6 1696.5 L3103.1 1603.9 L3113.6 1603.3 L3124.2 1620.4 L3134.7 1633.7 L3145.2 1620.8 L3155.7 1612.6" stroke="#111" stroke-width="1.2" fill="none" stroke-linejoin="round"/>
</g></svg>
<g font-family="Liberation Sans, sans-serif" font-size="20.5"><text x="94" y="1583" fill="#222" textLength="119" lengthAdjust="spacingAndGlyphs">RSI(6,12,24)</text><text x="220" y="1583" fill="#222" textLength="107" lengthAdjust="spacingAndGlyphs">RSI1:81.52</text><text x="340" y="1583" fill="#2b2b9b" textLength="106" lengthAdjust="spacingAndGlyphs">RSI2:76.14</text><text x="460" y="1583" fill="#e040e0" textLength="105" lengthAdjust="spacingAndGlyphs">RSI3:67.89</text></g>
<text x="3248" y="1846" font-family="Liberation Sans, sans-serif" font-size="30" fill="#c4c4c4">洵攸汗</text>
</svg></body></html>
